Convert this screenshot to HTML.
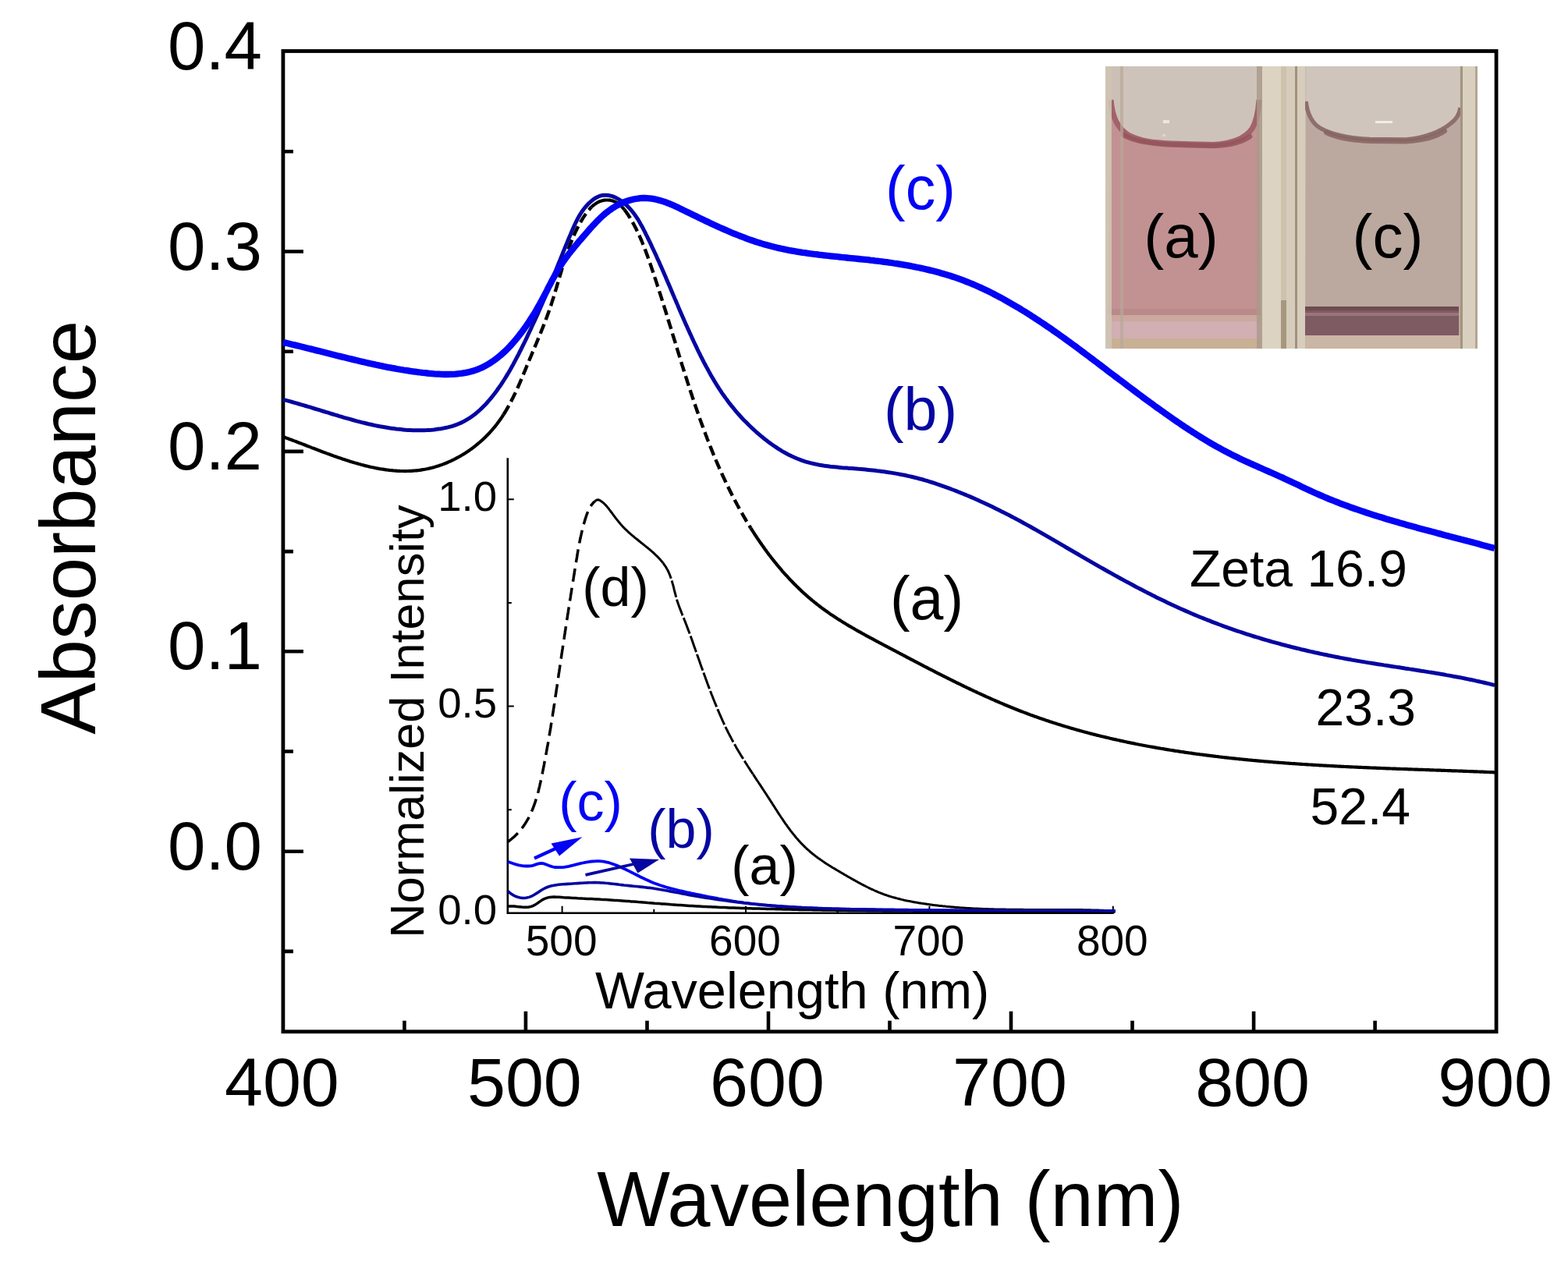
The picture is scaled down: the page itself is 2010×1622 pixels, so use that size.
<!DOCTYPE html>
<html><head><meta charset="utf-8"><title>Absorbance spectra</title>
<style>html,body{margin:0;padding:0;background:#fff;width:2010px;height:1622px;overflow:hidden;} svg{display:block;}</style>
</head><body>
<svg width="2010" height="1622" viewBox="0 0 2010 1622" font-family="'Liberation Sans', Arial, Helvetica, sans-serif">
<rect width="2010" height="1622" fill="#fff"/>

<g id="photo">
 <defs>
  <linearGradient id="topL" x1="0" y1="0" x2="0" y2="1">
   <stop offset="0" stop-color="#cdc3bb"/><stop offset="1" stop-color="#c8b8ae"/>
  </linearGradient>
  <linearGradient id="pinkL" x1="0" y1="0" x2="0" y2="1">
   <stop offset="0" stop-color="#c49494"/><stop offset="1" stop-color="#c39898"/>
  </linearGradient>
 </defs>
 <rect x="1417" y="85" width="477" height="362" fill="#cbbfb6"/>
 <rect x="1439" y="85" width="172" height="100" fill="#cec3bb"/>
 <rect x="1675" y="85" width="196" height="100" fill="#cfc5bd"/>
 <!-- left cuvette liquid -->
 <path d="M1424,128 C1426,150 1432,165 1448,174 C1462,181 1478,183 1500,184 L1556,185.5 C1580,184 1596,178 1605,165 C1611,155 1613,142 1614,128 L1616,396 L1420,396 Z" fill="#c29292"/>
 <path d="M1424,128 C1426,150 1432,165 1448,174 C1462,181 1478,183 1500,184 L1556,185.5 C1580,184 1596,178 1605,165 C1611,155 1613,142 1614,128" fill="none" stroke="#a2636a" stroke-width="7"/>
 <path d="M1440,173 C1452,180 1470,184 1500,185.5 L1556,187 C1578,186 1592,182 1602,175" fill="none" stroke="#94545b" stroke-width="6.5" stroke-linecap="round" opacity="0.85"/>
 <rect x="1420" y="396" width="196" height="8" fill="#b98a89"/>
 <rect x="1420" y="404" width="196" height="8" fill="#cca89f"/>
 <rect x="1420" y="412" width="196" height="22" fill="#d1afb3"/>
 <rect x="1420" y="434" width="196" height="13" fill="#c8b095"/>
 <rect x="1491" y="154" width="8" height="4" fill="#efe6e0"/>
 <rect x="1490" y="172" width="4" height="3" fill="#e8d0d0"/>
 <!-- right cuvette liquid -->
 <path d="M1674,128 C1676,146 1682,158 1692,164 C1706,172 1724,177 1756,178.5 L1802,179 C1830,176 1848,168 1860,158 C1868,152 1871,146 1872,138 L1872,447 L1673,447 Z" fill="#bba99f"/>
 <path d="M1674,130 C1676,146 1682,158 1692,164 C1706,172 1724,177 1756,178.5 L1802,179 C1830,176 1848,168 1860,158 C1868,152 1871,146 1872,138" fill="none" stroke="#8e6f6c" stroke-width="5.5"/>
 <path d="M1700,170 C1712,176 1728,180 1756,181 L1802,181.5 C1826,180 1842,175 1852,168" fill="none" stroke="#866462" stroke-width="6" stroke-linecap="round" opacity="0.85"/>
 <rect x="1763" y="155" width="22" height="3" fill="#f2ece6"/>
 <rect x="1673" y="393" width="197" height="37" fill="#7e5a63"/>
 <rect x="1673" y="393" width="197" height="5" fill="#6e4c50"/>
 <rect x="1673" y="401" width="197" height="4" fill="#9a7478"/>
 <rect x="1673" y="430" width="199" height="17" fill="#c9b6a4"/>
 <!-- glass strips -->
 <rect x="1417" y="85" width="8" height="362" fill="#cfc4b4" opacity="0.9"/>
 <rect x="1436" y="85" width="4" height="362" fill="#b9a89a" opacity="0.7"/>
 <rect x="1611" y="85" width="7" height="362" fill="#a99a8a" opacity="0.8"/>
 <rect x="1618" y="85" width="24" height="362" fill="#dcd3c2"/>
 <rect x="1642" y="85" width="7" height="300" fill="#cdc2ae"/>
 <rect x="1642" y="385" width="7" height="62" fill="#a8977f"/>
 <rect x="1649" y="85" width="11" height="362" fill="#d6ccbb"/>
 <rect x="1660" y="85" width="3" height="362" fill="#a2917e"/>
 <rect x="1663" y="85" width="10" height="362" fill="#d7cdbd"/>
 <rect x="1872" y="85" width="3" height="362" fill="#a39480"/>
 <rect x="1875" y="85" width="16" height="362" fill="#d8cfbe"/>
 <rect x="1891" y="85" width="3" height="362" fill="#b3a792"/>
 <text x="1514" y="330" font-size="78" text-anchor="middle" fill="#000" font-family="'Liberation Sans', Arial, Helvetica, sans-serif">(a)</text>
 <text x="1779" y="330" font-size="78" text-anchor="middle" fill="#000" font-family="'Liberation Sans', Arial, Helvetica, sans-serif">(c)</text>
</g>
<rect x="362.9" y="65.5" width="1555.1999999999998" height="1257.3" fill="none" stroke="#000" stroke-width="4.8"/>
<path d="M518.4,1322.8 V1308.8 M673.9,1322.8 V1296.8 M829.5,1322.8 V1308.8 M985.0,1322.8 V1296.8 M1140.5,1322.8 V1308.8 M1296.0,1322.8 V1296.8 M1451.5,1322.8 V1308.8 M1607.1,1322.8 V1296.8 M1762.6,1322.8 V1308.8 M362.9,1219.9 H375.9 M362.9,1091.7 H388.9 M362.9,963.5 H375.9 M362.9,835.3 H388.9 M362.9,707.1 H375.9 M362.9,578.9 H388.9 M362.9,450.7 H375.9 M362.9,322.5 H388.9 M362.9,194.3 H375.9" stroke="#000" stroke-width="4.6" fill="none"/>
<text x="336" y="89.1" font-size="87" text-anchor="end" font-family="'Liberation Sans', Arial, Helvetica, sans-serif">0.4</text>
<text x="336" y="345.5" font-size="87" text-anchor="end" font-family="'Liberation Sans', Arial, Helvetica, sans-serif">0.3</text>
<text x="336" y="601.9" font-size="87" text-anchor="end" font-family="'Liberation Sans', Arial, Helvetica, sans-serif">0.2</text>
<text x="336" y="858.3" font-size="87" text-anchor="end" font-family="'Liberation Sans', Arial, Helvetica, sans-serif">0.1</text>
<text x="336" y="1114.7" font-size="87" text-anchor="end" font-family="'Liberation Sans', Arial, Helvetica, sans-serif">0.0</text>
<text x="361.4" y="1418" font-size="88" text-anchor="middle" font-family="'Liberation Sans', Arial, Helvetica, sans-serif">400</text>
<text x="672.4" y="1418" font-size="88" text-anchor="middle" font-family="'Liberation Sans', Arial, Helvetica, sans-serif">500</text>
<text x="983.5" y="1418" font-size="88" text-anchor="middle" font-family="'Liberation Sans', Arial, Helvetica, sans-serif">600</text>
<text x="1294.5" y="1418" font-size="88" text-anchor="middle" font-family="'Liberation Sans', Arial, Helvetica, sans-serif">700</text>
<text x="1605.6" y="1418" font-size="88" text-anchor="middle" font-family="'Liberation Sans', Arial, Helvetica, sans-serif">800</text>
<text x="1916.6" y="1418" font-size="88" text-anchor="middle" font-family="'Liberation Sans', Arial, Helvetica, sans-serif">900</text>
<text x="1141.3" y="1572" font-size="99.3" text-anchor="middle" font-family="'Liberation Sans', Arial, Helvetica, sans-serif">Wavelength (nm)</text>
<text transform="translate(122.2,676.3) rotate(-90)" x="0" y="0" font-size="99.5" text-anchor="middle" font-family="'Liberation Sans', Arial, Helvetica, sans-serif">Absorbance</text>
<path d="M650.8,587.2 V1170.8 H1427.8" stroke="#000" stroke-width="2.6" fill="none"/>
<path d="M720.6,1170.8 V1161.8 M838.3,1170.8 V1165.8 M956.0,1170.8 V1161.8 M1073.7,1170.8 V1165.8 M1191.4,1170.8 V1161.8 M1309.1,1170.8 V1165.8 M1426.8,1170.8 V1161.8 M650.8,1038.2 H655.8 M650.8,905.5 H658.8 M650.8,772.9 H655.8 M650.8,640.3 H658.8" stroke="#000" stroke-width="2" fill="none"/>
<text x="637" y="654.8" font-size="54.5" text-anchor="end" font-family="'Liberation Sans', Arial, Helvetica, sans-serif">1.0</text>
<text x="637" y="920.0" font-size="54.5" text-anchor="end" font-family="'Liberation Sans', Arial, Helvetica, sans-serif">0.5</text>
<text x="637" y="1185.3" font-size="54.5" text-anchor="end" font-family="'Liberation Sans', Arial, Helvetica, sans-serif">0.0</text>
<text x="719.6" y="1224.5" font-size="55" text-anchor="middle" font-family="'Liberation Sans', Arial, Helvetica, sans-serif">500</text>
<text x="955.0" y="1224.5" font-size="55" text-anchor="middle" font-family="'Liberation Sans', Arial, Helvetica, sans-serif">600</text>
<text x="1190.4" y="1224.5" font-size="55" text-anchor="middle" font-family="'Liberation Sans', Arial, Helvetica, sans-serif">700</text>
<text x="1425.8" y="1224.5" font-size="55" text-anchor="middle" font-family="'Liberation Sans', Arial, Helvetica, sans-serif">800</text>
<text x="1015.6" y="1293" font-size="66.7" text-anchor="middle" font-family="'Liberation Sans', Arial, Helvetica, sans-serif">Wavelength (nm)</text>
<text transform="translate(542.5,925) rotate(-90)" x="0" y="0" font-size="61.3" text-anchor="middle" font-family="'Liberation Sans', Arial, Helvetica, sans-serif">Normalized Intensity</text>
<path d="M651.0,1079.3 L652.1,1078.5 L653.1,1077.8 L654.1,1077.0 L655.0,1076.3 L656.0,1075.5 L656.9,1074.7 L657.9,1073.9 L658.8,1073.1 L659.7,1072.3 L660.6,1071.4 L661.4,1070.6 L662.3,1069.8 L663.1,1068.9 L663.9,1068.0 L664.7,1067.2 L665.5,1066.3 L666.3,1065.4 L667.0,1064.5 L667.8,1063.6 L668.5,1062.7 L669.2,1061.8 L669.9,1060.8 L670.6,1059.9 L671.3,1059.0 L671.9,1058.0 L672.6,1057.0 L673.2,1056.1 L673.8,1055.1 L674.4,1054.1 L675.0,1053.2 L675.6,1052.2 L676.2,1051.2 L676.8,1050.2 L677.3,1049.2 L677.9,1048.1 L678.4,1047.1 L678.9,1046.1 L679.4,1045.1 L679.9,1044.0 L680.4,1043.0 L680.9,1041.9 L681.3,1040.9 L681.8,1039.8 L682.2,1038.7 L682.7,1037.7 L683.1,1036.6 L683.5,1035.5 L683.9,1034.4 L684.4,1033.4 L684.7,1032.3 L685.1,1031.2 L685.5,1030.1 L685.9,1029.0 L686.3,1027.9 L686.6,1026.8 L687.0,1025.6 L687.3,1024.5 L687.7,1023.4 L688.0,1022.3 L688.3,1021.2 L688.6,1020.0 L688.9,1018.9 L689.3,1017.8 L689.6,1016.6 L689.9,1015.5 L690.2,1014.3 L690.4,1013.2 L690.7,1012.1 L691.0,1010.9 L691.3,1009.8 L691.6,1008.6 L691.8,1007.5 L692.1,1006.3 L692.3,1005.1 L692.6,1004.0 L692.9,1002.8 L693.1,1001.7 L693.4,1000.5 L693.6,999.4 L693.9,998.2 L694.1,997.0 L694.3,995.9 L694.6,994.7 L694.8,993.6 L695.1,992.4 L695.3,991.2 L695.5,990.1 L695.8,988.9 L696.0,987.8 L696.2,986.6 L696.5,985.5 L696.7,984.3 L696.9,983.1 L697.1,982.0 L697.4,980.8 L697.6,979.7 L697.8,978.5 L698.0,977.3 L698.2,976.2 L698.5,975.0 L698.7,973.9 L698.9,972.7 L699.1,971.6 L699.3,970.4 L699.6,969.2 L699.8,968.1 L700.0,966.9 L700.2,965.8 L700.4,964.6 L700.6,963.5 L700.8,962.3 L701.0,961.1 L701.2,960.0 L701.4,958.8 L701.6,957.7 L701.9,956.5 L702.1,955.4 L702.3,954.2 L702.5,953.0 L702.7,951.9 L702.9,950.7 L703.1,949.6 L703.3,948.4 L703.5,947.3 L703.7,946.1 L703.9,945.0 L704.0,943.8 L704.2,942.6 L704.4,941.5 L704.6,940.3 L704.8,939.2 L705.0,938.0 L705.2,936.9 L705.4,935.7 L705.6,934.5 L705.8,933.4 L706.0,932.2 L706.1,931.1 L706.3,929.9 L706.5,928.8 L706.7,927.6 L706.9,926.5 L707.1,925.3 L707.3,924.1 L707.4,923.0 L707.6,921.8 L707.8,920.7 L708.0,919.5 L708.2,918.4 L708.4,917.2 L708.5,916.0 L708.7,914.9 L708.9,913.7 L709.1,912.6 L709.3,911.4 L709.4,910.3 L709.6,909.1 L709.8,908.0 L710.0,906.8 L710.1,905.6 L710.3,904.5 L710.5,903.3 L710.7,902.2 L710.8,901.0 L711.0,899.9 L711.2,898.7 L711.4,897.5 L711.5,896.4 L711.7,895.2 L711.9,894.1 L712.1,892.9 L712.2,891.8 L712.4,890.6 L712.6,889.4 L712.8,888.3 L712.9,887.1 L713.1,886.0 L713.3,884.8 L713.4,883.7 L713.6,882.5 L713.8,881.3 L714.0,880.2 L714.1,879.0 L714.3,877.9 L714.5,876.7 L714.6,875.6 L714.8,874.4 L715.0,873.2 L715.2,872.1 L715.3,870.9 L715.5,869.8 L715.7,868.6 L715.8,867.4 L716.0,866.3 L716.2,865.1 L716.3,864.0 L716.5,862.8 L716.7,861.7 L716.9,860.5 L717.0,859.3 L717.2,858.2 L717.4,857.0 L717.5,855.9 L717.7,854.7 L717.9,853.5 L718.1,852.4 L718.2,851.2 L718.4,850.1 L718.6,848.9 L718.7,847.7 L718.9,846.6 L719.1,845.4 L719.3,844.3 L719.4,843.1 L719.6,841.9 L719.8,840.8 L719.9,839.6 L720.1,838.4 L720.3,837.3 L720.5,836.1 L720.6,835.0 L720.8,833.8 L721.0,832.6 L721.2,831.5 L721.3,830.3 L721.5,829.1 L721.7,828.0 L721.9,826.8 L722.0,825.7 L722.2,824.5 L722.4,823.3 L722.6,822.2 L722.7,821.0 L722.9,819.8 L723.1,818.7 L723.3,817.5 L723.4,816.4 L723.6,815.2 L723.8,814.0 L724.0,812.9 L724.2,811.7 L724.3,810.5 L724.5,809.4 L724.7,808.2 L724.9,807.1 L725.0,805.9 L725.2,804.7 L725.4,803.6 L725.6,802.4 L725.8,801.2 L725.9,800.1 L726.1,798.9 L726.3,797.7 L726.5,796.6 L726.6,795.4 L726.8,794.3 L727.0,793.1 L727.2,791.9 L727.4,790.8 L727.5,789.6 L727.7,788.4 L727.9,787.3 L728.1,786.1 L728.3,785.0 L728.4,783.8 L728.6,782.6 L728.8,781.5 L729.0,780.3 L729.2,779.1 L729.4,778.0 L729.5,776.8 L729.7,775.7 L729.9,774.5 L730.1,773.3 L730.3,772.2 L730.4,771.0 L730.6,769.9 L730.8,768.7 L731.0,767.5 L731.2,766.4 L731.4,765.2 L731.5,764.1 L731.7,762.9 L731.9,761.7 L732.1,760.6 L732.3,759.4 L732.5,758.3 L732.6,757.1 L732.8,755.9 L733.0,754.8 L733.2,753.6 L733.4,752.5 L733.6,751.3 L733.8,750.1 L733.9,749.0 L734.1,747.8 L734.3,746.7 L734.5,745.5 L734.7,744.3 L734.9,743.2 L735.1,742.0 L735.2,740.9 L735.4,739.7 L735.6,738.6 L735.8,737.4 L736.0,736.3 L736.2,735.1 L736.4,733.9 L736.5,732.8 L736.7,731.6 L736.9,730.5 L737.1,729.3 L737.3,728.2 L737.5,727.0 L737.7,725.9 L737.9,724.7 L738.0,723.6 L738.2,722.4 L738.4,721.2 L738.6,720.1 L738.8,718.9 L739.0,717.8 L739.2,716.6 L739.4,715.5 L739.6,714.3 L739.8,713.2 L739.9,712.0 L740.1,710.9 L740.3,709.7 L740.5,708.6 L740.7,707.4 L740.9,706.3 L741.1,705.1 L741.3,704.0 L741.5,702.8 L741.7,701.7 L742.0,700.5 L742.2,699.4 L742.4,698.2 L742.6,697.1 L742.8,695.9 L743.0,694.8 L743.3,693.7 L743.5,692.5 L743.7,691.4 L744.0,690.2 L744.2,689.1 L744.5,687.9 L744.7,686.8 L745.0,685.6 L745.2,684.5 L745.5,683.3 L745.8,682.2 L746.0,681.1 L746.3,679.9 L746.6,678.8 L746.9,677.6 L747.2,676.5 L747.5,675.3 L747.8,674.2 L748.1,673.0 L748.4,671.9 L748.7,670.8 L749.1,669.6 L749.4,668.5 L749.7,667.3 L750.1,666.2 L750.4,665.0 L750.8,663.9 L751.2,662.8 L751.5,661.6 L751.9,660.5 L752.3,659.4 L752.7,658.2 L753.2,657.1 L753.6,656.0 L754.1,654.9 L754.6,653.8 L755.1,652.8 L755.6,651.8 L756.2,650.7 L756.8,649.7 L757.4,648.8 L758.0,647.8 L758.7,646.9 L759.4,646.0 L760.2,645.1 L760.9,644.3 L761.8,643.5 L762.6,642.7" stroke="#000" stroke-width="3.5" fill="none" stroke-dasharray="17,8"/>
<path d="M762.6,642.7 L763.5,642.0 L764.5,641.4 L765.5,640.9 L766.5,640.8 L767.5,641.0 L768.6,641.4 L769.7,642.0 L770.7,642.7 L771.7,643.4 L772.6,644.2 L773.5,644.9 L774.4,645.7 L775.3,646.5 L776.1,647.4 L776.9,648.2 L777.6,649.1 L778.4,650.0 L779.1,650.9 L779.9,651.8 L780.6,652.7 L781.3,653.7 L782.0,654.6 L782.7,655.5 L783.4,656.5 L784.2,657.4 L784.9,658.4 L785.6,659.4 L786.3,660.3 L787.0,661.3 L787.7,662.2 L788.4,663.2 L789.1,664.1 L789.9,665.1 L790.6,666.0 L791.3,666.9 L792.1,667.9 L792.8,668.8 L793.6,669.7 L794.3,670.6 L795.1,671.5 L795.8,672.4 L796.6,673.3 L797.4,674.2 L798.2,675.0 L799.0,675.9 L799.8,676.7 L800.6,677.5 L801.4,678.3 L802.3,679.1 L803.1,680.0 L803.9,680.7 L804.8,681.5 L805.6,682.3 L806.5,683.1 L807.4,683.9 L808.2,684.6 L809.1,685.4 L810.0,686.1 L810.9,686.9 L811.8,687.6 L812.7,688.4 L813.5,689.1 L814.4,689.8 L815.3,690.6 L816.3,691.3 L817.2,692.0 L818.1,692.8 L819.0,693.5 L819.9,694.2 L820.8,694.9 L821.7,695.7 L822.7,696.4 L823.6,697.1 L824.5,697.9 L825.4,698.6 L826.3,699.4 L827.3,700.1 L828.2,700.8 L829.1,701.6 L830.0,702.3 L831.0,703.1 L831.9,703.9 L832.8,704.6 L833.7,705.4 L834.6,706.2 L835.5,707.0 L836.4,707.8 L837.3,708.5 L838.2,709.3 L839.0,710.1 L839.9,711.0 L840.8,711.8 L841.6,712.6 L842.5,713.4 L843.3,714.3 L844.1,715.1 L844.9,716.0 L845.7,716.8 L846.5,717.7 L847.2,718.6 L848.0,719.5 L848.7,720.4 L849.5,721.3 L850.2,722.2" stroke="#000" stroke-width="3.0" fill="none"/>
<path d="M850.2,722.2 L850.9,723.1 L851.5,724.1 L852.2,725.0 L852.8,726.0 L853.5,726.9 L854.1,727.9 L854.6,728.9 L855.2,729.9 L855.8,730.9 L856.3,732.0 L856.8,733.0 L857.3,734.0 L857.7,735.1 L858.2,736.2 L858.6,737.2 L859.0,738.3 L859.4,739.4 L859.8,740.5 L860.2,741.6 L860.6,742.7 L860.9,743.8 L861.3,745.0 L861.6,746.1 L861.9,747.2 L862.2,748.4 L862.6,749.5 L862.9,750.7 L863.2,751.8 L863.5,753.0 L863.8,754.1 L864.0,755.3 L864.3,756.4 L864.6,757.6 L864.9,758.7 L865.2,759.9 L865.5,761.0 L865.8,762.2 L866.1,763.3 L866.4,764.5 L866.7,765.6 L867.0,766.8 L867.4,767.9 L867.7,769.0 L868.0,770.2 L868.4,771.3 L868.8,772.4 L869.1,773.5 L869.5,774.6 L869.9,775.7 L870.3,776.8 L870.7,777.9 L871.1,779.0 L871.5,780.1 L871.9,781.2 L872.4,782.3 L872.8,783.4 L873.2,784.4 L873.6,785.5 L874.1,786.6 L874.5,787.7 L874.9,788.8 L875.4,789.8 L875.8,790.9 L876.2,792.0 L876.7,793.1 L877.1,794.2 L877.5,795.3 L878.0,796.4 L878.4,797.4 L878.8,798.5 L879.2,799.6 L879.7,800.7 L880.1,801.8 L880.5,802.9 L880.9,804.0 L881.3,805.1 L881.7,806.2 L882.1,807.3 L882.5,808.4 L883.0,809.5 L883.4,810.6 L883.8,811.7 L884.2,812.8 L884.6,813.9 L885.0,815.0 L885.4,816.1 L885.8,817.2 L886.2,818.3 L886.6,819.4 L887.0,820.6 L887.4,821.7 L887.8,822.8 L888.2,823.9 L888.6,825.0 L888.9,826.1 L889.3,827.2 L889.7,828.3 L890.1,829.4 L890.5,830.5 L890.9,831.6 L891.3,832.8 L891.7,833.9 L892.1,835.0 L892.5,836.1 L892.9,837.2 L893.3,838.3 L893.6,839.4 L894.0,840.5 L894.4,841.6 L894.8,842.7 L895.2,843.8 L895.6,845.0 L896.0,846.1 L896.4,847.2 L896.8,848.3 L897.2,849.4 L897.5,850.5 L897.9,851.6 L898.3,852.7 L898.7,853.8 L899.1,854.9 L899.5,856.0 L899.9,857.1 L900.3,858.2 L900.7,859.3 L901.1,860.4 L901.5,861.5 L901.9,862.6 L902.3,863.7 L902.7,864.8 L903.1,865.9 L903.5,867.0 L903.9,868.1 L904.3,869.2 L904.7,870.3 L905.1,871.4 L905.5,872.5 L905.9,873.6 L906.3,874.7 L906.7,875.8 L907.1,876.9 L907.5,878.0 L907.9,879.1 L908.3,880.2 L908.8,881.3 L909.2,882.4 L909.6,883.5 L910.0,884.6 L910.4,885.7 L910.8,886.8 L911.3,887.9 L911.7,889.0 L912.1,890.1 L912.5,891.1 L913.0,892.2 L913.4,893.3 L913.8,894.4 L914.2,895.5 L914.7,896.6 L915.1,897.7 L915.5,898.8 L916.0,899.9 L916.4,901.0 L916.9,902.1 L917.3,903.2 L917.8,904.3 L918.2,905.3 L918.6,906.4 L919.1,907.5 L919.6,908.6 L920.0,909.7 L920.5,910.8 L920.9,911.9 L921.4,912.9 L921.9,914.0 L922.3,915.1 L922.8,916.2 L923.3,917.3 L923.7,918.4 L924.2,919.4 L924.7,920.5 L925.2,921.6 L925.6,922.7 L926.1,923.7 L926.6,924.8 L927.1,925.9 L927.6,926.9 L928.1,928.0 L928.6,929.1 L929.1,930.1 L929.6,931.2 L930.1,932.3 L930.6,933.3 L931.1,934.4 L931.6,935.4 L932.2,936.5 L932.7,937.5 L933.2,938.6 L933.7,939.6 L934.3,940.7 L934.8,941.7 L935.3,942.8 L935.9,943.8 L936.4,944.8 L937.0,945.9 L937.5,946.9 L938.1,947.9 L938.6,949.0 L939.2,950.0 L939.7,951.0 L940.3,952.0 L940.9,953.1 L941.4,954.1 L942.0,955.1 L942.6,956.1 L943.2,957.1 L943.7,958.1 L944.3,959.2 L944.9,960.2 L945.5,961.2 L946.1,962.2 L946.7,963.2 L947.3,964.2 L947.9,965.2 L948.5,966.2 L949.1,967.2 L949.7,968.2 L950.3,969.2 L950.9,970.2 L951.5,971.1 L952.1,972.1 L952.7,973.1 L953.4,974.1 L954.0,975.1 L954.6,976.1 L955.2,977.1 L955.8,978.1 L956.5,979.0 L957.1,980.0 L957.7,981.0 L958.3,982.0 L959.0,983.0 L959.6,984.0 L960.2,984.9 L960.9,985.9 L961.5,986.9 L962.1,987.9 L962.8,988.9 L963.4,989.8 L964.1,990.8 L964.7,991.8 L965.3,992.8" stroke="#000" stroke-width="3.0" fill="none" stroke-dasharray="22,3"/>
<path d="M965.3,992.8 L966.0,993.7 L966.6,994.7 L967.3,995.7 L967.9,996.7 L968.5,997.6 L969.2,998.6 L969.8,999.6 L970.5,1000.6 L971.1,1001.5 L971.8,1002.5 L972.4,1003.5 L973.1,1004.5 L973.7,1005.5 L974.4,1006.4 L975.0,1007.4 L975.7,1008.4 L976.3,1009.4 L977.0,1010.4 L977.6,1011.3 L978.2,1012.3 L978.9,1013.3 L979.5,1014.3 L980.2,1015.3 L980.8,1016.2 L981.5,1017.2 L982.1,1018.2 L982.8,1019.2 L983.4,1020.2 L984.0,1021.2 L984.7,1022.2 L985.3,1023.2 L986.0,1024.2 L986.6,1025.1 L987.2,1026.1 L987.9,1027.1 L988.5,1028.1 L989.2,1029.1 L989.8,1030.1 L990.4,1031.1 L991.1,1032.1 L991.7,1033.1 L992.4,1034.1 L993.0,1035.1 L993.6,1036.1 L994.3,1037.1 L994.9,1038.1 L995.6,1039.1 L996.2,1040.1 L996.8,1041.1 L997.5,1042.1 L998.1,1043.1 L998.8,1044.1 L999.4,1045.0 L1000.1,1046.0 L1000.7,1047.0 L1001.4,1048.0 L1002.1,1049.0 L1002.7,1050.0 L1003.4,1050.9 L1004.0,1051.9 L1004.7,1052.9 L1005.4,1053.9 L1006.0,1054.8 L1006.7,1055.8 L1007.4,1056.8 L1008.1,1057.7 L1008.8,1058.7 L1009.4,1059.6 L1010.1,1060.6 L1010.8,1061.5 L1011.5,1062.5 L1012.2,1063.4 L1012.9,1064.3 L1013.6,1065.3 L1014.3,1066.2 L1015.1,1067.1 L1015.8,1068.1 L1016.5,1069.0 L1017.2,1069.9 L1018.0,1070.8 L1018.7,1071.7 L1019.4,1072.6 L1020.2,1073.5 L1020.9,1074.4 L1021.7,1075.3 L1022.5,1076.1 L1023.2,1077.0 L1024.0,1077.9 L1024.8,1078.7 L1025.6,1079.6 L1026.3,1080.5 L1027.1,1081.3 L1027.9,1082.1 L1028.8,1083.0 L1029.6,1083.8 L1030.4,1084.6 L1031.2,1085.4 L1032.0,1086.2 L1032.9,1087.0 L1033.7,1087.8 L1034.6,1088.6 L1035.4,1089.4 L1036.3,1090.2 L1037.2,1090.9 L1038.1,1091.7 L1038.9,1092.5 L1039.8,1093.2 L1040.7,1093.9 L1041.6,1094.7 L1042.6,1095.4 L1043.5,1096.1 L1044.4,1096.8 L1045.3,1097.6 L1046.2,1098.3 L1047.2,1099.0 L1048.1,1099.7 L1049.1,1100.4 L1050.0,1101.0 L1051.0,1101.7 L1051.9,1102.4 L1052.9,1103.1 L1053.9,1103.7 L1054.8,1104.4 L1055.8,1105.1 L1056.8,1105.7 L1057.8,1106.4 L1058.7,1107.0 L1059.7,1107.7 L1060.7,1108.3 L1061.7,1108.9 L1062.7,1109.6 L1063.7,1110.2 L1064.7,1110.8 L1065.7,1111.4 L1066.7,1112.1 L1067.7,1112.7 L1068.8,1113.3 L1069.8,1113.9 L1070.8,1114.5 L1071.8,1115.1 L1072.8,1115.7 L1073.8,1116.3 L1074.9,1116.9 L1075.9,1117.5 L1076.9,1118.1 L1077.9,1118.7 L1078.9,1119.3 L1080.0,1119.9 L1081.0,1120.5 L1082.0,1121.1 L1083.0,1121.7 L1084.1,1122.3 L1085.1,1122.9 L1086.1,1123.5 L1087.1,1124.1 L1088.2,1124.7 L1089.2,1125.2 L1090.2,1125.8 L1091.2,1126.4 L1092.3,1127.0 L1093.3,1127.6 L1094.3,1128.2 L1095.3,1128.7 L1096.4,1129.3 L1097.4,1129.9 L1098.4,1130.4 L1099.5,1131.0 L1100.5,1131.6 L1101.5,1132.1 L1102.6,1132.7 L1103.6,1133.2 L1104.6,1133.8 L1105.7,1134.3 L1106.7,1134.9 L1107.7,1135.4 L1108.8,1135.9 L1109.8,1136.5 L1110.9,1137.0 L1111.9,1137.5 L1113.0,1138.0 L1114.0,1138.6 L1115.1,1139.1 L1116.1,1139.6 L1117.2,1140.1 L1118.2,1140.5 L1119.3,1141.0 L1120.4,1141.5 L1121.4,1142.0 L1122.5,1142.5 L1123.6,1142.9 L1124.6,1143.4 L1125.7,1143.8 L1126.8,1144.3 L1127.9,1144.7 L1128.9,1145.1 L1130.0,1145.5 L1131.1,1146.0 L1132.2,1146.4 L1133.3,1146.8 L1134.4,1147.2 L1135.5,1147.5 L1136.6,1147.9 L1137.7,1148.3 L1138.8,1148.7 L1139.9,1149.0 L1141.0,1149.4 L1142.2,1149.7 L1143.3,1150.1 L1144.4,1150.4 L1145.5,1150.7 L1146.7,1151.0 L1147.8,1151.3 L1148.9,1151.6 L1150.0,1151.9 L1151.2,1152.2 L1152.3,1152.5 L1153.5,1152.8 L1154.6,1153.1 L1155.7,1153.4 L1156.9,1153.6 L1158.0,1153.9 L1159.2,1154.2 L1160.3,1154.4 L1161.5,1154.7 L1162.6,1154.9 L1163.8,1155.1 L1164.9,1155.4 L1166.1,1155.6 L1167.2,1155.8 L1168.4,1156.1 L1169.6,1156.3 L1170.7,1156.5 L1171.9,1156.7 L1173.0,1156.9 L1174.2,1157.1 L1175.4,1157.3 L1176.5,1157.5 L1177.7,1157.7 L1178.9,1157.9 L1180.0,1158.1 L1181.2,1158.3 L1182.4,1158.4 L1183.5,1158.6 L1184.7,1158.8 L1185.8,1159.0 L1187.0,1159.1 L1188.2,1159.3 L1189.3,1159.5 L1190.5,1159.6 L1191.7,1159.8 L1192.8,1159.9 L1194.0,1160.1 L1195.2,1160.3 L1196.3,1160.4 L1197.5,1160.6 L1198.7,1160.7 L1199.8,1160.8 L1201.0,1161.0 L1202.2,1161.1 L1203.3,1161.3 L1204.5,1161.4 L1205.7,1161.5 L1206.8,1161.6 L1208.0,1161.8 L1209.2,1161.9 L1210.3,1162.0 L1211.5,1162.1 L1212.7,1162.3 L1213.8,1162.4 L1215.0,1162.5 L1216.2,1162.6 L1217.3,1162.7 L1218.5,1162.8 L1219.7,1162.9 L1220.8,1163.0 L1222.0,1163.1 L1223.2,1163.2 L1224.4,1163.3 L1225.5,1163.4 L1226.7,1163.5 L1227.9,1163.6 L1229.0,1163.7 L1230.2,1163.8 L1231.4,1163.9 L1232.5,1163.9 L1233.7,1164.0 L1234.9,1164.1 L1236.0,1164.2 L1237.2,1164.2 L1238.4,1164.3 L1239.6,1164.4 L1240.7,1164.5 L1241.9,1164.5 L1243.1,1164.6 L1244.2,1164.7 L1245.4,1164.7 L1246.6,1164.8 L1247.8,1164.9 L1248.9,1164.9 L1250.1,1165.0 L1251.3,1165.0 L1252.4,1165.1 L1253.6,1165.1 L1254.8,1165.2 L1255.9,1165.2 L1257.1,1165.3 L1258.3,1165.3 L1259.5,1165.4 L1260.6,1165.4 L1261.8,1165.5 L1263.0,1165.5 L1264.2,1165.6 L1265.3,1165.6 L1266.5,1165.6 L1267.7,1165.7 L1268.8,1165.7 L1270.0,1165.7 L1271.2,1165.8 L1272.4,1165.8 L1273.5,1165.8 L1274.7,1165.9 L1275.9,1165.9 L1277.0,1165.9 L1278.2,1165.9 L1279.4,1166.0 L1280.6,1166.0 L1281.7,1166.0 L1282.9,1166.0 L1284.1,1166.1 L1285.3,1166.1 L1286.4,1166.1 L1287.6,1166.1 L1288.8,1166.1 L1289.9,1166.2 L1291.1,1166.2 L1292.3,1166.2 L1293.5,1166.2 L1294.6,1166.2 L1295.8,1166.2 L1297.0,1166.2 L1298.2,1166.3 L1299.3,1166.3 L1300.5,1166.3 L1301.7,1166.3 L1302.9,1166.3 L1304.0,1166.3 L1305.2,1166.3 L1306.4,1166.3 L1307.5,1166.3 L1308.7,1166.3 L1309.9,1166.3 L1311.1,1166.3 L1312.2,1166.4 L1313.4,1166.4 L1314.6,1166.4 L1315.8,1166.4 L1316.9,1166.4 L1318.1,1166.4 L1319.3,1166.4 L1320.5,1166.4 L1321.6,1166.4 L1322.8,1166.4 L1324.0,1166.4 L1325.2,1166.4 L1326.3,1166.4 L1327.5,1166.4 L1328.7,1166.4 L1329.9,1166.4 L1331.0,1166.4 L1332.2,1166.4 L1333.4,1166.4 L1334.5,1166.4 L1335.7,1166.4 L1336.9,1166.4 L1338.1,1166.4 L1339.2,1166.4 L1340.4,1166.4 L1341.6,1166.4 L1342.8,1166.4 L1343.9,1166.4 L1345.1,1166.4 L1346.3,1166.4 L1347.5,1166.4 L1348.6,1166.4 L1349.8,1166.4 L1351.0,1166.4 L1352.2,1166.4 L1353.3,1166.4 L1354.5,1166.4 L1355.7,1166.4 L1356.9,1166.4 L1358.0,1166.4 L1359.2,1166.4 L1360.4,1166.4 L1361.6,1166.4 L1362.7,1166.4 L1363.9,1166.4 L1365.1,1166.4 L1366.3,1166.4 L1367.4,1166.4 L1368.6,1166.4 L1369.8,1166.5 L1370.9,1166.5 L1372.1,1166.5 L1373.3,1166.5 L1374.5,1166.5 L1375.6,1166.5 L1376.8,1166.5 L1378.0,1166.5 L1379.2,1166.5 L1380.3,1166.5 L1381.5,1166.6 L1382.7,1166.6 L1383.9,1166.6 L1385.0,1166.6 L1386.2,1166.6 L1387.4,1166.6 L1388.6,1166.7 L1389.7,1166.7 L1390.9,1166.7 L1392.1,1166.7 L1393.2,1166.7 L1394.4,1166.8 L1395.6,1166.8 L1396.8,1166.8 L1397.9,1166.8 L1399.1,1166.9 L1400.3,1166.9 L1401.5,1166.9 L1402.6,1167.0 L1403.8,1167.0 L1405.0,1167.0 L1406.2,1167.1 L1407.3,1167.1 L1408.5,1167.1 L1409.7,1167.2 L1410.8,1167.2 L1412.0,1167.2 L1413.2,1167.3 L1414.4,1167.3 L1415.5,1167.4 L1416.7,1167.4 L1417.9,1167.5 L1419.1,1167.5 L1420.2,1167.6 L1421.4,1167.6 L1422.6,1167.7 L1423.7,1167.7 L1424.9,1167.8 L1426.1,1167.8 L1427.3,1167.9 L1428.4,1168.0 L1429.6,1168.0" stroke="#000" stroke-width="3.0" fill="none"/>
<path d="M650.8,1104.7 L653.6,1105.8 L656.5,1106.8 L659.3,1107.7 L662.2,1108.6 L665.2,1109.3 L668.1,1109.9 L671.1,1110.3 L674.0,1110.5 L677.0,1110.5 L679.9,1110.3 L682.8,1109.8 L685.7,1108.9 L688.6,1107.9 L691.5,1107.1 L694.3,1106.8 L697.2,1107.4 L700.1,1108.4 L702.9,1109.6 L705.8,1110.7 L708.7,1111.5 L711.6,1112.0 L714.5,1112.2 L717.4,1112.2 L720.3,1112.1 L723.2,1111.8 L726.2,1111.3 L729.1,1110.8 L732.0,1110.1 L735.0,1109.4 L738.0,1108.6 L740.9,1107.9 L743.9,1107.2 L746.9,1106.5 L749.9,1105.8 L752.9,1105.3 L755.9,1104.8 L758.9,1104.5 L761.9,1104.3 L764.9,1104.2 L767.8,1104.2 L770.8,1104.4 L773.7,1104.7 L776.7,1105.3 L779.6,1105.9 L782.4,1106.7 L785.3,1107.7 L788.1,1108.7 L790.9,1109.8 L793.7,1111.0 L796.4,1112.2 L799.1,1113.5 L801.9,1114.7 L804.6,1116.1 L807.2,1117.4 L809.9,1118.8 L812.6,1120.1 L815.3,1121.5 L817.9,1122.8 L820.6,1124.2 L823.3,1125.5 L826.0,1126.8 L828.7,1128.1 L831.4,1129.3 L834.1,1130.5 L836.9,1131.7 L839.7,1132.8 L842.5,1133.8 L845.3,1134.8 L848.2,1135.7 L851.0,1136.6 L853.9,1137.5 L856.8,1138.3 L859.7,1139.1 L862.6,1139.8 L865.5,1140.5 L868.4,1141.3 L871.4,1142.0 L874.3,1142.6 L877.2,1143.3 L880.1,1144.0 L883.1,1144.6 L886.0,1145.3 L888.9,1145.9 L891.8,1146.5 L894.8,1147.1 L897.7,1147.7 L900.6,1148.3 L903.6,1148.9 L906.5,1149.5 L909.4,1150.1 L912.4,1150.6 L915.3,1151.2 L918.3,1151.7 L921.2,1152.3 L924.2,1152.8 L927.1,1153.4 L930.1,1153.9 L933.0,1154.4 L936.0,1154.9 L938.9,1155.4 L941.9,1155.8 L944.8,1156.3 L947.8,1156.7 L950.8,1157.1 L953.7,1157.6 L956.7,1158.0 L959.7,1158.3 L962.6,1158.7 L965.6,1159.1 L968.6,1159.4 L971.5,1159.7 L974.5,1160.1 L977.5,1160.4 L980.5,1160.7 L983.5,1160.9 L986.4,1161.2 L989.4,1161.5 L992.4,1161.7 L995.4,1162.0 L998.4,1162.2 L1001.3,1162.4 L1004.3,1162.6 L1007.3,1162.8 L1010.3,1163.0 L1013.3,1163.2 L1016.3,1163.4 L1019.3,1163.5 L1022.3,1163.7 L1025.3,1163.8 L1028.3,1164.0 L1031.2,1164.1 L1034.2,1164.3 L1037.2,1164.4 L1040.2,1164.5 L1043.2,1164.6 L1046.2,1164.7 L1049.2,1164.8 L1052.2,1164.9 L1055.2,1165.0 L1058.2,1165.1 L1061.2,1165.2 L1064.2,1165.2 L1067.2,1165.3 L1070.2,1165.4 L1073.2,1165.4 L1076.2,1165.5 L1079.2,1165.6 L1082.2,1165.6 L1085.2,1165.7 L1088.2,1165.7 L1091.2,1165.8 L1094.2,1165.8 L1097.2,1165.9 L1100.2,1165.9 L1103.2,1166.0 L1106.2,1166.0 L1109.2,1166.0 L1112.2,1166.1 L1115.2,1166.1 L1118.2,1166.2 L1121.2,1166.2 L1124.2,1166.3 L1127.2,1166.3 L1130.2,1166.3 L1133.1,1166.4 L1136.1,1166.4 L1139.1,1166.5 L1142.1,1166.5 L1145.1,1166.5 L1148.1,1166.6 L1151.1,1166.6 L1154.1,1166.6 L1157.1,1166.7 L1160.1,1166.7 L1163.1,1166.7 L1166.1,1166.8 L1169.1,1166.8 L1172.1,1166.8 L1175.1,1166.9 L1178.1,1166.9 L1181.1,1166.9 L1184.1,1167.0 L1187.0,1167.0 L1190.0,1167.0 L1193.0,1167.1 L1196.0,1167.1 L1199.0,1167.1 L1202.0,1167.1 L1205.0,1167.2 L1208.0,1167.2 L1211.0,1167.2 L1214.0,1167.2 L1217.0,1167.3 L1220.0,1167.3 L1223.0,1167.3 L1226.0,1167.3 L1229.0,1167.4 L1231.9,1167.4 L1234.9,1167.4 L1237.9,1167.4 L1240.9,1167.5 L1243.9,1167.5 L1246.9,1167.5 L1249.9,1167.5 L1252.9,1167.5 L1255.9,1167.6 L1258.9,1167.6 L1261.9,1167.6 L1264.9,1167.6 L1267.9,1167.6 L1270.8,1167.6 L1273.8,1167.7 L1276.8,1167.7 L1279.8,1167.7 L1282.8,1167.7 L1285.8,1167.7 L1288.8,1167.7 L1291.8,1167.7 L1294.8,1167.8 L1297.8,1167.8 L1300.8,1167.8 L1303.8,1167.8 L1306.8,1167.8 L1309.8,1167.8 L1312.8,1167.8 L1315.7,1167.8 L1318.7,1167.9 L1321.7,1167.9 L1324.7,1167.9 L1327.7,1167.9 L1330.7,1167.9 L1333.7,1167.9 L1336.7,1167.9 L1339.7,1167.9 L1342.7,1167.9 L1345.7,1167.9 L1348.7,1167.9 L1351.7,1167.9 L1354.7,1167.9 L1357.7,1168.0 L1360.7,1168.0 L1363.7,1168.0 L1366.6,1168.0 L1369.6,1168.0 L1372.6,1168.0 L1375.6,1168.0 L1378.6,1168.0 L1381.6,1168.0 L1384.6,1168.0 L1387.6,1168.0 L1390.6,1168.0 L1393.6,1168.0 L1396.6,1168.0 L1399.6,1168.0 L1402.6,1168.0 L1405.6,1168.0 L1408.6,1168.0 L1411.6,1168.0 L1414.6,1168.0 L1417.6,1168.0 L1420.6,1168.0 L1423.6,1168.0 L1426.6,1168.0 L1429.6,1168.0" stroke="#0303f5" stroke-width="3.8" fill="none"/>
<path d="M650.8,1162.1 L653.6,1161.9 L656.5,1161.9 L659.5,1162.1 L662.5,1162.4 L665.7,1162.7 L668.8,1163.1 L671.9,1163.2 L674.9,1163.3 L677.9,1163.0 L680.8,1162.4 L683.5,1161.4 L686.1,1160.1 L688.6,1158.4 L691.1,1156.6 L693.6,1154.9 L696.1,1153.3 L698.8,1152.0 L701.5,1151.1 L704.4,1150.5 L707.4,1150.2 L710.4,1150.1 L713.4,1150.2 L716.5,1150.3 L719.5,1150.5 L722.5,1150.8 L725.6,1151.0 L728.6,1151.1 L731.6,1151.3 L734.6,1151.5 L737.6,1151.6 L740.6,1151.8 L743.6,1151.9 L746.6,1152.1 L749.6,1152.2 L752.5,1152.4 L755.5,1152.5 L758.5,1152.6 L761.5,1152.8 L764.5,1152.9 L767.4,1153.1 L770.4,1153.3 L773.4,1153.4 L776.4,1153.6 L779.4,1153.8 L782.4,1154.0 L785.4,1154.2 L788.3,1154.4 L791.3,1154.6 L794.3,1154.8 L797.3,1155.0 L800.3,1155.2 L803.3,1155.4 L806.3,1155.6 L809.2,1155.9 L812.2,1156.1 L815.2,1156.3 L818.2,1156.6 L821.2,1156.8 L824.2,1157.0 L827.2,1157.2 L830.2,1157.5 L833.2,1157.7 L836.2,1157.9 L839.2,1158.2 L842.2,1158.4 L845.1,1158.6 L848.1,1158.9 L851.1,1159.1 L854.1,1159.3 L857.1,1159.5 L860.1,1159.8 L863.1,1160.0 L866.1,1160.2 L869.1,1160.4 L872.1,1160.6 L875.1,1160.8 L878.1,1161.0 L881.1,1161.2 L884.1,1161.4 L887.1,1161.5 L890.1,1161.7 L893.0,1161.9 L896.0,1162.0 L899.0,1162.2 L902.0,1162.4 L905.0,1162.5 L908.0,1162.7 L911.0,1162.8 L914.0,1163.0 L917.0,1163.1 L920.0,1163.2 L923.0,1163.4 L926.0,1163.5 L929.0,1163.6 L932.0,1163.7 L935.0,1163.9 L938.0,1164.0 L941.0,1164.1 L944.0,1164.2 L947.0,1164.3 L949.9,1164.4 L952.9,1164.5 L955.9,1164.6 L958.9,1164.7 L961.9,1164.8 L964.9,1164.9 L967.9,1165.0 L970.9,1165.1 L973.9,1165.1 L976.9,1165.2 L979.9,1165.3 L982.9,1165.4 L985.9,1165.5 L988.9,1165.5 L991.9,1165.6 L994.9,1165.7 L997.9,1165.8 L1000.9,1165.8 L1003.9,1165.9 L1006.9,1166.0 L1009.9,1166.0 L1012.9,1166.1 L1015.9,1166.2 L1018.9,1166.2 L1021.9,1166.3 L1024.9,1166.4 L1027.8,1166.4 L1030.8,1166.5 L1033.8,1166.5 L1036.8,1166.6 L1039.8,1166.6 L1042.8,1166.7 L1045.8,1166.7 L1048.8,1166.8 L1051.8,1166.8 L1054.8,1166.9 L1057.8,1166.9 L1060.8,1167.0 L1063.8,1167.0 L1066.8,1167.1 L1069.8,1167.1 L1072.8,1167.2 L1075.8,1167.2 L1078.8,1167.3 L1081.8,1167.3 L1084.8,1167.3 L1087.8,1167.4 L1090.8,1167.4 L1093.8,1167.5 L1096.8,1167.5 L1099.8,1167.5 L1102.8,1167.6 L1105.8,1167.6 L1108.8,1167.6 L1111.8,1167.7 L1114.8,1167.7 L1117.8,1167.7 L1120.8,1167.7 L1123.8,1167.8 L1126.8,1167.8 L1129.8,1167.8 L1132.8,1167.9 L1135.8,1167.9 L1138.8,1167.9 L1141.8,1167.9 L1144.8,1168.0 L1147.8,1168.0 L1150.8,1168.0 L1153.8,1168.0 L1156.8,1168.1 L1159.8,1168.1 L1162.8,1168.1 L1165.8,1168.1 L1168.8,1168.1 L1171.8,1168.2 L1174.7,1168.2 L1177.7,1168.2 L1180.7,1168.2 L1183.7,1168.2 L1186.7,1168.2 L1189.7,1168.3 L1192.7,1168.3 L1195.7,1168.3 L1198.7,1168.3 L1201.7,1168.3 L1204.7,1168.3 L1207.7,1168.3 L1210.7,1168.3 L1213.7,1168.4 L1216.7,1168.4 L1219.7,1168.4 L1222.7,1168.4 L1225.7,1168.4 L1228.7,1168.4 L1231.7,1168.4 L1234.7,1168.4 L1237.7,1168.4 L1240.7,1168.5 L1243.7,1168.5 L1246.7,1168.5 L1249.7,1168.5 L1252.7,1168.5 L1255.7,1168.5 L1258.7,1168.5 L1261.7,1168.5 L1264.7,1168.5 L1267.7,1168.5 L1270.7,1168.5 L1273.7,1168.5 L1276.7,1168.5 L1279.7,1168.6 L1282.7,1168.6 L1285.7,1168.6 L1288.7,1168.6 L1291.7,1168.6 L1294.7,1168.6 L1297.7,1168.6 L1300.7,1168.6 L1303.7,1168.6 L1306.7,1168.6 L1309.7,1168.6 L1312.7,1168.6 L1315.7,1168.6 L1318.7,1168.6 L1321.7,1168.6 L1324.7,1168.6 L1327.7,1168.7 L1330.7,1168.7 L1333.7,1168.7 L1336.7,1168.7 L1339.7,1168.7 L1342.7,1168.7 L1345.7,1168.7 L1348.7,1168.7 L1351.7,1168.7 L1354.7,1168.7 L1357.7,1168.7 L1360.7,1168.7 L1363.7,1168.7 L1366.7,1168.7 L1369.7,1168.8 L1372.7,1168.8 L1375.6,1168.8 L1378.6,1168.8 L1381.6,1168.8 L1384.6,1168.8 L1387.6,1168.8 L1390.6,1168.8 L1393.6,1168.8 L1396.6,1168.8 L1399.6,1168.9 L1402.6,1168.9 L1405.6,1168.9 L1408.6,1168.9 L1411.6,1168.9 L1414.6,1168.9 L1417.6,1168.9 L1420.6,1169.0 L1423.6,1169.0 L1426.6,1169.0 L1429.6,1169.0" stroke="#000" stroke-width="3.5" fill="none"/>
<path d="M650.8,1142.2 L653.0,1144.4 L655.5,1146.3 L658.1,1147.9 L660.8,1149.3 L663.7,1150.3 L666.6,1151.0 L669.6,1151.4 L672.5,1151.5 L675.4,1151.1 L678.2,1150.4 L680.9,1149.4 L683.6,1148.0 L686.1,1146.5 L688.7,1144.9 L691.2,1143.2 L693.8,1141.5 L696.4,1140.0 L699.0,1138.6 L701.7,1137.5 L704.5,1136.5 L707.4,1135.8 L710.2,1135.2 L713.2,1134.7 L716.1,1134.3 L719.1,1134.0 L722.1,1133.8 L725.1,1133.6 L728.2,1133.4 L731.2,1133.2 L734.2,1133.0 L737.2,1132.8 L740.2,1132.6 L743.2,1132.4 L746.2,1132.2 L749.2,1132.0 L752.2,1131.9 L755.2,1131.7 L758.1,1131.7 L761.1,1131.6 L764.1,1131.6 L767.1,1131.7 L770.1,1131.9 L773.0,1132.0 L776.0,1132.3 L779.0,1132.5 L782.0,1132.9 L784.9,1133.2 L787.9,1133.5 L790.9,1133.9 L793.9,1134.3 L796.9,1134.6 L799.8,1135.0 L802.8,1135.3 L805.8,1135.6 L808.8,1135.9 L811.8,1136.2 L814.8,1136.5 L817.7,1136.8 L820.7,1137.1 L823.7,1137.4 L826.7,1137.7 L829.6,1138.1 L832.6,1138.4 L835.6,1138.8 L838.5,1139.2 L841.5,1139.7 L844.4,1140.2 L847.4,1140.7 L850.3,1141.2 L853.3,1141.7 L856.2,1142.3 L859.1,1142.9 L862.1,1143.4 L865.0,1144.0 L868.0,1144.6 L870.9,1145.1 L873.8,1145.7 L876.8,1146.3 L879.7,1146.8 L882.7,1147.4 L885.6,1147.9 L888.6,1148.4 L891.5,1148.9 L894.5,1149.4 L897.4,1149.9 L900.4,1150.4 L903.3,1150.9 L906.3,1151.4 L909.3,1151.8 L912.2,1152.3 L915.2,1152.7 L918.2,1153.2 L921.1,1153.6 L924.1,1154.0 L927.1,1154.4 L930.0,1154.8 L933.0,1155.2 L936.0,1155.6 L938.9,1156.0 L941.9,1156.4 L944.9,1156.7 L947.9,1157.1 L950.8,1157.4 L953.8,1157.7 L956.8,1158.0 L959.8,1158.4 L962.7,1158.7 L965.7,1159.0 L968.7,1159.3 L971.7,1159.5 L974.7,1159.8 L977.6,1160.1 L980.6,1160.3 L983.6,1160.6 L986.6,1160.8 L989.6,1161.1 L992.6,1161.3 L995.5,1161.5 L998.5,1161.7 L1001.5,1161.9 L1004.5,1162.2 L1007.5,1162.3 L1010.5,1162.5 L1013.5,1162.7 L1016.4,1162.9 L1019.4,1163.1 L1022.4,1163.2 L1025.4,1163.4 L1028.4,1163.6 L1031.4,1163.7 L1034.4,1163.9 L1037.4,1164.0 L1040.4,1164.1 L1043.4,1164.3 L1046.3,1164.4 L1049.3,1164.5 L1052.3,1164.6 L1055.3,1164.8 L1058.3,1164.9 L1061.3,1165.0 L1064.3,1165.1 L1067.3,1165.2 L1070.3,1165.3 L1073.3,1165.4 L1076.3,1165.5 L1079.3,1165.5 L1082.3,1165.6 L1085.3,1165.7 L1088.3,1165.8 L1091.2,1165.9 L1094.2,1165.9 L1097.2,1166.0 L1100.2,1166.1 L1103.2,1166.1 L1106.2,1166.2 L1109.2,1166.3 L1112.2,1166.3 L1115.2,1166.4 L1118.2,1166.4 L1121.2,1166.5 L1124.2,1166.5 L1127.2,1166.6 L1130.2,1166.6 L1133.2,1166.7 L1136.2,1166.7 L1139.2,1166.8 L1142.1,1166.8 L1145.1,1166.9 L1148.1,1166.9 L1151.1,1166.9 L1154.1,1167.0 L1157.1,1167.0 L1160.1,1167.0 L1163.1,1167.1 L1166.1,1167.1 L1169.1,1167.1 L1172.1,1167.2 L1175.1,1167.2 L1178.1,1167.2 L1181.1,1167.2 L1184.1,1167.2 L1187.1,1167.3 L1190.1,1167.3 L1193.1,1167.3 L1196.0,1167.3 L1199.0,1167.3 L1202.0,1167.4 L1205.0,1167.4 L1208.0,1167.4 L1211.0,1167.4 L1214.0,1167.4 L1217.0,1167.4 L1220.0,1167.4 L1223.0,1167.4 L1226.0,1167.4 L1229.0,1167.5 L1232.0,1167.5 L1235.0,1167.5 L1238.0,1167.5 L1241.0,1167.5 L1244.0,1167.5 L1246.9,1167.5 L1249.9,1167.5 L1252.9,1167.5 L1255.9,1167.5 L1258.9,1167.5 L1261.9,1167.5 L1264.9,1167.5 L1267.9,1167.5 L1270.9,1167.5 L1273.9,1167.5 L1276.9,1167.5 L1279.9,1167.5 L1282.9,1167.5 L1285.9,1167.5 L1288.9,1167.5 L1291.9,1167.5 L1294.9,1167.5 L1297.9,1167.5 L1300.8,1167.5 L1303.8,1167.5 L1306.8,1167.5 L1309.8,1167.5 L1312.8,1167.5 L1315.8,1167.5 L1318.8,1167.5 L1321.8,1167.5 L1324.8,1167.5 L1327.8,1167.5 L1330.8,1167.5 L1333.8,1167.5 L1336.8,1167.5 L1339.8,1167.5 L1342.8,1167.5 L1345.8,1167.5 L1348.8,1167.5 L1351.7,1167.5 L1354.7,1167.5 L1357.7,1167.5 L1360.7,1167.6 L1363.7,1167.6 L1366.7,1167.6 L1369.7,1167.6 L1372.7,1167.6 L1375.7,1167.6 L1378.7,1167.6 L1381.7,1167.6 L1384.7,1167.6 L1387.7,1167.7 L1390.7,1167.7 L1393.7,1167.7 L1396.7,1167.7 L1399.7,1167.7 L1402.7,1167.8 L1405.6,1167.8 L1408.6,1167.8 L1411.6,1167.8 L1414.6,1167.9 L1417.6,1167.9 L1420.6,1167.9 L1423.6,1167.9 L1426.6,1168.0 L1429.6,1168.0" stroke="#0606a2" stroke-width="3.6" fill="none"/>
<path d="M685,1100.5 L722,1083.5" stroke="#0303f5" stroke-width="4.2" fill="none"/>
<path d="M746.5,1073.2 L706.5,1081.5 L717,1097.5 Z" fill="#0303f5"/>
<path d="M750.5,1121.8 L812,1108" stroke="#0606a2" stroke-width="3.8" fill="none"/>
<path d="M845,1102 L807,1100.5 L817.5,1119.5 Z" fill="#0606a2"/>
<text x="757" y="1052" font-size="70" text-anchor="middle" fill="#0303f5" font-family="'Liberation Sans', Arial, Helvetica, sans-serif">(c)</text>
<text x="873" y="1087" font-size="70" text-anchor="middle" fill="#0606a2" font-family="'Liberation Sans', Arial, Helvetica, sans-serif">(b)</text>
<text x="980" y="1134" font-size="70" text-anchor="middle" fill="#000" font-family="'Liberation Sans', Arial, Helvetica, sans-serif">(a)</text>
<text x="789" y="777" font-size="70" text-anchor="middle" fill="#000" font-family="'Liberation Sans', Arial, Helvetica, sans-serif">(d)</text>
<path d="M363.2,560.2 L364.4,560.6 L365.5,561.0 L366.7,561.4 L367.8,561.9 L369.0,562.3 L370.2,562.7 L371.4,563.2 L372.5,563.6 L373.7,564.0 L374.9,564.5 L376.1,564.9 L377.3,565.4 L378.5,565.8 L379.7,566.3 L380.9,566.8 L382.1,567.2 L383.3,567.7 L384.5,568.2 L385.8,568.6 L387.0,569.1 L388.2,569.6 L389.4,570.0 L390.7,570.5 L391.9,571.0 L393.1,571.5 L394.4,572.0 L395.6,572.4 L396.8,572.9 L398.1,573.4 L399.3,573.9 L400.6,574.4 L401.8,574.8 L403.1,575.3 L404.3,575.8 L405.6,576.3 L406.9,576.8 L408.1,577.3 L409.4,577.7 L410.7,578.2 L411.9,578.7 L413.2,579.2 L414.5,579.7 L415.8,580.2 L417.0,580.6 L418.3,581.1 L419.6,581.6 L420.9,582.1 L422.2,582.5 L423.5,583.0 L424.8,583.5 L426.1,583.9 L427.3,584.4 L428.6,584.9 L429.9,585.3 L431.2,585.8 L432.5,586.2 L433.8,586.7 L435.1,587.1 L436.4,587.6 L437.8,588.0 L439.1,588.5 L440.4,588.9 L441.7,589.3 L443.0,589.8 L444.3,590.2 L445.6,590.6 L446.9,591.0 L448.3,591.5 L449.6,591.9 L450.9,592.3 L452.2,592.7 L453.5,593.1 L454.9,593.5 L456.2,593.8 L457.5,594.2 L458.8,594.6 L460.1,595.0 L461.5,595.3 L462.8,595.7 L464.1,596.0 L465.5,596.4 L466.8,596.7 L468.1,597.1 L469.4,597.4 L470.8,597.7 L472.1,598.0 L473.4,598.4 L474.8,598.7 L476.1,599.0 L477.4,599.2 L478.7,599.5 L480.1,599.8 L481.4,600.1 L482.7,600.3 L484.1,600.6 L485.4,600.8 L486.7,601.1 L488.1,601.3 L489.4,601.5 L490.7,601.7 L492.1,601.9 L493.4,602.1 L494.7,602.3 L496.1,602.5 L497.4,602.7 L498.7,602.8 L500.0,603.0 L501.4,603.1 L502.7,603.2 L504.0,603.4 L505.3,603.5 L506.7,603.6 L508.0,603.7 L509.3,603.8 L510.6,603.8 L512.0,603.9 L513.3,604.0 L514.6,604.0 L515.9,604.0 L517.3,604.0 L518.6,604.1 L519.9,604.1 L521.2,604.0 L522.5,604.0 L523.8,604.0 L525.1,603.9 L526.5,603.9 L527.8,603.8 L529.1,603.7 L530.4,603.6 L531.7,603.5 L533.0,603.4 L534.3,603.3 L535.6,603.1 L536.9,603.0 L538.2,602.8 L539.5,602.6 L540.8,602.4 L542.1,602.2 L543.4,602.0 L544.7,601.8 L546.0,601.5 L547.3,601.3 L548.5,601.0 L549.8,600.7 L551.1,600.4 L552.4,600.1 L553.7,599.8 L554.9,599.4 L556.2,599.1 L557.5,598.7 L558.7,598.3 L560.0,598.0 L561.2,597.6 L562.5,597.2 L563.7,596.7 L565.0,596.3 L566.2,595.9 L567.5,595.4 L568.7,594.9 L570.0,594.5 L571.2,594.0 L572.4,593.5 L573.6,593.0 L574.9,592.4 L576.1,591.9 L577.3,591.4 L578.5,590.8 L579.7,590.2 L580.9,589.7 L582.1,589.1 L583.3,588.5 L584.4,587.9 L585.6,587.2 L586.8,586.6 L588.0,586.0 L589.1,585.3 L590.3,584.7 L591.4,584.0 L592.6,583.3 L593.7,582.6 L594.9,581.9 L596.0,581.2 L597.1,580.5 L598.2,579.7 L599.4,579.0 L600.5,578.2 L601.6,577.5 L602.7,576.7 L603.7,575.9 L604.8,575.2 L605.9,574.4 L607.0,573.6 L608.0,572.7 L609.1,571.9 L610.1,571.1 L611.2,570.2 L612.2,569.4 L613.2,568.5 L614.3,567.7 L615.3,566.8 L616.3,565.9 L617.3,565.0 L618.3,564.1 L619.3,563.2 L620.2,562.3 L621.2,561.4 L622.2,560.4 L623.1,559.5 L624.1,558.5 L625.0,557.6 L625.9,556.6 L626.9,555.7 L627.8,554.7 L628.7,553.7 L629.6,552.7 L630.5,551.7 L631.3,550.7 L632.2,549.7 L633.1,548.6 L633.9,547.6 L634.8,546.6 L635.6,545.5 L636.4,544.5 L637.2,543.4 L638.0,542.4 L638.8,541.3 L639.6,540.2 L640.4,539.1 L641.2,538.1 L641.9,537.0 L642.7,535.9 L643.4,534.8 L644.1,533.6 L644.9,532.5 L645.6,531.4" stroke="#000" stroke-width="4.2" fill="none"/>
<path d="M645.6,531.4 L646.3,530.3 L647.0,529.1 L647.7,528.0 L648.4,526.9 L649.1,525.7 L649.7,524.6 L650.4,523.4 L651.1,522.2 L651.7,521.1 L652.4,519.9 L653.0,518.7 L653.7,517.6 L654.3,516.4 L654.9,515.2 L655.5,514.0 L656.1,512.8 L656.7,511.6 L657.3,510.4 L657.9,509.2 L658.5,508.0 L659.1,506.8 L659.7,505.6 L660.3,504.4 L660.9,503.1 L661.4,501.9 L662.0,500.7 L662.5,499.5 L663.1,498.3 L663.7,497.0 L664.2,495.8 L664.8,494.6 L665.3,493.3 L665.8,492.1 L666.4,490.8 L666.9,489.6 L667.4,488.4 L668.0,487.1 L668.5,485.9 L669.0,484.6 L669.6,483.4 L670.1,482.1 L670.6,480.9 L671.1,479.7 L671.6,478.4 L672.1,477.2 L672.7,475.9 L673.2,474.7 L673.7,473.4 L674.2,472.2 L674.7,470.9 L675.2,469.7 L675.7,468.4 L676.3,467.2 L676.8,465.9 L677.3,464.7 L677.8,463.5 L678.3,462.2 L678.8,461.0 L679.3,459.7 L679.9,458.5 L680.4,457.3 L680.9,456.0 L681.4,454.8 L681.9,453.6 L682.4,452.3 L682.9,451.1 L683.5,449.9 L684.0,448.6 L684.5,447.4 L685.0,446.2 L685.5,445.0 L686.0,443.7 L686.6,442.5 L687.1,441.3 L687.6,440.0 L688.1,438.8 L688.6,437.6 L689.1,436.4 L689.6,435.1 L690.1,433.9 L690.6,432.7 L691.1,431.4 L691.6,430.2 L692.2,429.0 L692.7,427.8 L693.2,426.5 L693.6,425.3 L694.1,424.1 L694.6,422.8 L695.1,421.6 L695.6,420.4 L696.1,419.1 L696.6,417.9 L697.1,416.7 L697.6,415.4 L698.0,414.2 L698.5,413.0 L699.0,411.7 L699.5,410.5 L699.9,409.3 L700.4,408.0 L700.9,406.8 L701.3,405.5 L701.8,404.3 L702.2,403.0 L702.7,401.8 L703.1,400.5 L703.6,399.3 L704.0,398.0 L704.4,396.8 L704.9,395.5 L705.3,394.3 L705.7,393.0 L706.2,391.7 L706.6,390.5 L707.0,389.2 L707.4,387.9 L707.8,386.7 L708.2,385.4 L708.6,384.1 L709.0,382.8 L709.4,381.6 L709.8,380.3 L710.2,379.0 L710.6,377.7 L711.0,376.5 L711.4,375.2 L711.8,373.9 L712.1,372.6 L712.5,371.3 L712.9,370.1 L713.3,368.8 L713.7,367.5 L714.1,366.2 L714.4,364.9 L714.8,363.6 L715.2,362.4 L715.6,361.1 L716.0,359.8 L716.3,358.5 L716.7,357.2 L717.1,355.9 L717.5,354.6 L717.8,353.4 L718.2,352.1 L718.6,350.8 L719.0,349.5 L719.4,348.2 L719.8,346.9 L720.1,345.7 L720.5,344.4 L720.9,343.1 L721.3,341.8 L721.7,340.5 L722.1,339.3 L722.5,338.0 L722.9,336.7 L723.3,335.4 L723.7,334.2 L724.1,332.9 L724.5,331.6 L724.9,330.4 L725.4,329.1 L725.8,327.8 L726.2,326.6 L726.6,325.3 L727.1,324.1 L727.5,322.8 L727.9,321.5 L728.4,320.3 L728.8,319.0 L729.3,317.8 L729.7,316.5 L730.2,315.3 L730.7,314.1 L731.1,312.8 L731.6,311.6 L732.1,310.4 L732.6,309.1 L733.1,307.9 L733.6,306.7 L734.1,305.4 L734.6,304.2 L735.2,303.0 L735.7,301.8 L736.2,300.6 L736.8,299.3 L737.3,298.1 L737.9,296.9 L738.5,295.7 L739.1,294.5 L739.7,293.3 L740.3,292.1 L740.9,290.9 L741.5,289.7 L742.2,288.5 L742.8,287.3 L743.5,286.1 L744.2,284.9 L744.9,283.7 L745.6,282.5 L746.3,281.3 L747.0,280.1 L747.8,278.9 L748.6,277.7 L749.3,276.6 L750.1,275.4 L751.0,274.2 L751.8,273.1 L752.6,272.0 L753.5,270.8 L754.4,269.7 L755.3,268.7 L756.2,267.6 L757.1,266.6 L758.1,265.7" stroke="#000" stroke-width="4.4" fill="none" stroke-dasharray="13,6"/>
<path d="M758.1,265.7 L759.0,264.7 L760.0,263.8 L761.0,263.0 L762.1,262.1 L763.1,261.4 L764.2,260.7 L765.3,260.0 L766.4,259.4 L767.5,258.8 L768.6,258.3 L769.8,257.9 L771.0,257.5 L772.2,257.2 L773.4,256.9 L774.6,256.7 L775.8,256.6 L777.0,256.5 L778.3,256.5 L779.5,256.5 L780.7,256.6 L781.9,256.7 L783.1,257.0 L784.3,257.2 L785.5,257.6 L786.6,258.0 L787.8,258.4 L788.9,258.9 L790.0,259.5 L791.0,260.1 L792.1,260.8 L793.1,261.6 L794.1,262.4 L795.1,263.2 L796.0,264.1 L797.0,265.0 L797.9,265.9 L798.8,266.9 L799.7,268.0 L800.5,269.0" stroke="#000" stroke-width="4.2" fill="none"/>
<path d="M800.5,269.0 L801.4,270.1 L802.2,271.2 L803.0,272.3 L803.8,273.5 L804.6,274.6 L805.4,275.8 L806.1,277.0 L806.9,278.2 L807.6,279.4 L808.3,280.6 L809.1,281.8 L809.8,283.0 L810.4,284.2 L811.1,285.4 L811.8,286.6 L812.5,287.8 L813.1,289.0 L813.8,290.2 L814.4,291.4 L815.0,292.6 L815.6,293.8 L816.2,295.1 L816.8,296.3 L817.4,297.5 L818.0,298.7 L818.6,299.9 L819.1,301.2 L819.7,302.4 L820.2,303.6 L820.8,304.9 L821.3,306.1 L821.8,307.3 L822.4,308.5 L822.9,309.8 L823.4,311.0 L823.9,312.3 L824.4,313.5 L824.9,314.7 L825.4,316.0 L825.9,317.2 L826.4,318.4 L826.8,319.7 L827.3,320.9 L827.8,322.2 L828.2,323.4 L828.7,324.7 L829.1,325.9 L829.6,327.2 L830.1,328.4 L830.5,329.7 L830.9,330.9 L831.4,332.2 L831.8,333.4 L832.3,334.7 L832.7,335.9 L833.1,337.2 L833.6,338.4 L834.0,339.7 L834.4,340.9 L834.9,342.2 L835.3,343.5 L835.7,344.7 L836.1,346.0 L836.6,347.2 L837.0,348.5 L837.4,349.8 L837.8,351.0 L838.3,352.3 L838.7,353.5 L839.1,354.8 L839.5,356.1 L839.9,357.3 L840.4,358.6 L840.8,359.9 L841.2,361.1 L841.6,362.4 L842.0,363.7 L842.4,364.9 L842.8,366.2 L843.2,367.5 L843.7,368.7 L844.1,370.0 L844.5,371.3 L844.9,372.5 L845.3,373.8 L845.7,375.1 L846.1,376.3 L846.5,377.6 L846.9,378.9 L847.3,380.2 L847.7,381.4 L848.1,382.7 L848.5,384.0 L848.9,385.2 L849.3,386.5 L849.7,387.8 L850.1,389.1 L850.5,390.3 L850.9,391.6 L851.3,392.9 L851.7,394.2 L852.1,395.4 L852.5,396.7 L852.9,398.0 L853.3,399.3 L853.7,400.5 L854.1,401.8 L854.5,403.1 L854.9,404.4 L855.3,405.7 L855.7,406.9 L856.1,408.2 L856.5,409.5 L856.8,410.8 L857.2,412.0 L857.6,413.3 L858.0,414.6 L858.4,415.9 L858.8,417.2 L859.2,418.4 L859.6,419.7 L860.0,421.0 L860.4,422.3 L860.8,423.6 L861.2,424.8 L861.6,426.1 L861.9,427.4 L862.3,428.7 L862.7,430.0 L863.1,431.2 L863.5,432.5 L863.9,433.8 L864.3,435.1 L864.7,436.4 L865.1,437.6 L865.5,438.9 L865.9,440.2 L866.2,441.5 L866.6,442.8 L867.0,444.0 L867.4,445.3 L867.8,446.6 L868.2,447.9 L868.6,449.2 L869.0,450.4 L869.4,451.7 L869.8,453.0 L870.2,454.3 L870.6,455.6 L871.0,456.8 L871.4,458.1 L871.8,459.4 L872.2,460.7 L872.5,462.0 L872.9,463.2 L873.3,464.5 L873.7,465.8 L874.1,467.1 L874.5,468.4 L874.9,469.6 L875.3,470.9 L875.7,472.2 L876.1,473.5 L876.5,474.7 L876.9,476.0 L877.3,477.3 L877.7,478.6 L878.1,479.9 L878.5,481.1 L878.9,482.4 L879.4,483.7 L879.8,485.0 L880.2,486.2 L880.6,487.5 L881.0,488.8 L881.4,490.1 L881.8,491.3 L882.2,492.6 L882.6,493.9 L883.0,495.2 L883.4,496.4 L883.9,497.7 L884.3,499.0 L884.7,500.2 L885.1,501.5 L885.5,502.8 L885.9,504.1 L886.4,505.3 L886.8,506.6 L887.2,507.9 L887.6,509.1 L888.0,510.4 L888.5,511.7 L888.9,513.0 L889.3,514.2 L889.7,515.5 L890.2,516.8 L890.6,518.0 L891.0,519.3 L891.5,520.6 L891.9,521.8 L892.3,523.1 L892.8,524.3 L893.2,525.6 L893.6,526.9 L894.1,528.1 L894.5,529.4 L895.0,530.7 L895.4,531.9 L895.8,533.2 L896.3,534.4 L896.7,535.7 L897.2,537.0 L897.6,538.2 L898.1,539.5 L898.5,540.7 L899.0,542.0 L899.4,543.3 L899.9,544.5 L900.3,545.8 L900.8,547.0 L901.3,548.3 L901.7,549.5 L902.2,550.8 L902.7,552.0 L903.1,553.3 L903.6,554.5 L904.1,555.8 L904.5,557.0 L905.0,558.3 L905.5,559.5 L906.0,560.8 L906.4,562.0 L906.9,563.3 L907.4,564.5 L907.9,565.8 L908.4,567.0 L908.8,568.2 L909.3,569.5 L909.8,570.7 L910.3,572.0 L910.8,573.2 L911.3,574.4 L911.8,575.7 L912.3,576.9 L912.8,578.2 L913.3,579.4 L913.8,580.6 L914.3,581.9 L914.8,583.1 L915.3,584.3 L915.8,585.6 L916.4,586.8 L916.9,588.0 L917.4,589.2 L917.9,590.5 L918.4,591.7 L919.0,592.9 L919.5,594.1 L920.0,595.4 L920.5,596.6 L921.1,597.8 L921.6,599.0 L922.1,600.3 L922.7,601.5 L923.2,602.7 L923.8,603.9 L924.3,605.1 L924.9,606.3 L925.4,607.6 L926.0,608.8 L926.5,610.0 L927.1,611.2 L927.6,612.4 L928.2,613.6 L928.8,614.8 L929.3,616.0 L929.9,617.2 L930.5,618.4 L931.0,619.6 L931.6,620.8 L932.2,622.0 L932.8,623.2 L933.4,624.4 L933.9,625.6 L934.5,626.8 L935.1,628.0 L935.7,629.2 L936.3,630.4 L936.9,631.6 L937.5,632.8 L938.1,634.0 L938.7,635.2 L939.3,636.4 L939.9,637.6 L940.6,638.8 L941.2,639.9 L941.8,641.1 L942.4,642.3 L943.0,643.5 L943.7,644.7 L944.3,645.8 L944.9,647.0 L945.6,648.2 L946.2,649.4 L946.9,650.5 L947.5,651.7 L948.1,652.9 L948.8,654.1 L949.4,655.2 L950.1,656.4 L950.8,657.6 L951.4,658.7 L952.1,659.9 L952.8,661.0 L953.4,662.2 L954.1,663.4 L954.8,664.5 L955.5,665.7 L956.1,666.8 L956.8,668.0 L957.5,669.1 L958.2,670.3 L958.9,671.4 L959.6,672.6 L960.3,673.7 L961.0,674.9 L961.7,676.0 L962.4,677.1" stroke="#000" stroke-width="4.4" fill="none" stroke-dasharray="13,6"/>
<path d="M962.4,677.1 L963.1,678.3 L963.9,679.4 L964.6,680.6 L965.3,681.7 L966.0,682.8 L966.8,683.9 L967.5,685.1 L968.2,686.2 L969.0,687.3 L969.7,688.4 L970.5,689.6 L971.2,690.7 L972.0,691.8 L972.7,692.9 L973.5,694.0 L974.2,695.1 L975.0,696.2 L975.8,697.3 L976.5,698.4 L977.3,699.5 L978.1,700.6 L978.9,701.7 L979.6,702.8 L980.4,703.9 L981.2,705.0 L982.0,706.1 L982.8,707.2 L983.6,708.2 L984.4,709.3 L985.2,710.4 L986.0,711.5 L986.8,712.5 L987.7,713.6 L988.5,714.7 L989.3,715.7 L990.1,716.8 L991.0,717.8 L991.8,718.9 L992.6,719.9 L993.5,721.0 L994.3,722.0 L995.2,723.0 L996.0,724.1 L996.9,725.1 L997.7,726.1 L998.6,727.2 L999.4,728.2 L1000.3,729.2 L1001.2,730.2 L1002.0,731.2 L1002.9,732.3 L1003.8,733.3 L1004.7,734.3 L1005.6,735.3 L1006.5,736.3 L1007.4,737.3 L1008.3,738.2 L1009.2,739.2 L1010.1,740.2 L1011.0,741.2 L1011.9,742.2 L1012.8,743.1 L1013.7,744.1 L1014.6,745.1 L1015.6,746.0 L1016.5,747.0 L1017.4,747.9 L1018.3,748.9 L1019.3,749.8 L1020.2,750.8 L1021.2,751.7 L1022.1,752.6 L1023.1,753.6 L1024.0,754.5 L1025.0,755.4 L1026.0,756.3 L1026.9,757.2 L1027.9,758.2 L1028.9,759.1 L1029.8,760.0 L1030.8,760.9 L1031.8,761.7 L1032.8,762.6 L1033.8,763.5 L1034.8,764.4 L1035.8,765.3 L1036.8,766.1 L1037.8,767.0 L1038.8,767.9 L1039.8,768.7 L1040.8,769.6 L1041.9,770.4 L1042.9,771.2 L1043.9,772.1 L1045.0,772.9 L1046.0,773.7 L1047.0,774.6 L1048.1,775.4 L1049.1,776.2 L1050.2,777.0 L1051.2,777.8 L1052.3,778.6 L1053.3,779.4 L1054.4,780.2 L1055.5,781.0 L1056.6,781.8 L1057.6,782.5 L1058.7,783.3 L1059.8,784.1 L1060.9,784.8 L1062.0,785.6 L1063.1,786.4 L1064.1,787.1 L1065.2,787.9 L1066.3,788.6 L1067.4,789.3 L1068.6,790.1 L1069.7,790.8 L1070.8,791.5 L1071.9,792.3 L1073.0,793.0 L1074.1,793.7 L1075.2,794.4 L1076.4,795.1 L1077.5,795.8 L1078.6,796.5 L1079.8,797.2 L1080.9,797.9 L1082.0,798.6 L1083.2,799.3 L1084.3,800.0 L1085.4,800.7 L1086.6,801.4 L1087.7,802.1 L1088.9,802.8 L1090.0,803.4 L1091.2,804.1 L1092.3,804.8 L1093.5,805.5 L1094.7,806.1 L1095.8,806.8 L1097.0,807.5 L1098.1,808.1 L1099.3,808.8 L1100.5,809.4 L1101.6,810.1 L1102.8,810.7 L1104.0,811.4 L1105.1,812.0 L1106.3,812.7 L1107.5,813.3 L1108.7,814.0 L1109.8,814.6 L1111.0,815.3 L1112.2,815.9 L1113.4,816.6 L1114.6,817.2 L1115.7,817.8 L1116.9,818.5 L1118.1,819.1 L1119.3,819.7 L1120.5,820.4 L1121.7,821.0 L1122.8,821.6 L1124.0,822.3 L1125.2,822.9 L1126.4,823.5 L1127.6,824.2 L1128.8,824.8 L1130.0,825.4 L1131.2,826.0 L1132.3,826.7 L1133.5,827.3 L1134.7,827.9 L1135.9,828.6 L1137.1,829.2 L1138.3,829.8 L1139.5,830.4 L1140.7,831.1 L1141.8,831.7 L1143.0,832.3 L1144.2,832.9 L1145.4,833.6 L1146.6,834.2 L1147.8,834.8 L1149.0,835.5 L1150.2,836.1 L1151.3,836.7 L1152.5,837.3 L1153.7,838.0 L1154.9,838.6 L1156.1,839.2 L1157.3,839.8 L1158.5,840.5 L1159.7,841.1 L1160.9,841.7 L1162.0,842.4 L1163.2,843.0 L1164.4,843.6 L1165.6,844.2 L1166.8,844.9 L1168.0,845.5 L1169.2,846.1 L1170.4,846.7 L1171.6,847.4 L1172.7,848.0 L1173.9,848.6 L1175.1,849.2 L1176.3,849.8 L1177.5,850.5 L1178.7,851.1 L1179.9,851.7 L1181.1,852.3 L1182.3,852.9 L1183.5,853.6 L1184.6,854.2 L1185.8,854.8 L1187.0,855.4 L1188.2,856.0 L1189.4,856.6 L1190.6,857.3 L1191.8,857.9 L1193.0,858.5 L1194.2,859.1 L1195.4,859.7 L1196.6,860.3 L1197.8,860.9 L1198.9,861.6 L1200.1,862.2 L1201.3,862.8 L1202.5,863.4 L1203.7,864.0 L1204.9,864.6 L1206.1,865.2 L1207.3,865.8 L1208.5,866.4 L1209.7,867.0 L1210.9,867.6 L1212.1,868.2 L1213.3,868.8 L1214.5,869.4 L1215.7,870.0 L1216.9,870.6 L1218.1,871.2 L1219.3,871.8 L1220.5,872.4 L1221.7,873.0 L1222.9,873.6 L1224.1,874.2 L1225.3,874.8 L1226.5,875.4 L1227.7,876.0 L1228.9,876.5 L1230.1,877.1 L1231.3,877.7 L1232.5,878.3 L1233.7,878.9 L1234.9,879.5 L1236.1,880.1 L1237.3,880.6 L1238.5,881.2 L1239.7,881.8 L1240.9,882.4 L1242.1,882.9 L1243.3,883.5 L1244.5,884.1 L1245.7,884.7 L1246.9,885.2 L1248.2,885.8 L1249.4,886.4 L1250.6,886.9 L1251.8,887.5 L1253.0,888.1 L1254.2,888.6 L1255.4,889.2 L1256.6,889.7 L1257.8,890.3 L1259.1,890.8 L1260.3,891.4 L1261.5,892.0 L1262.7,892.5 L1263.9,893.1 L1265.1,893.6 L1266.3,894.1 L1267.6,894.7 L1268.8,895.2 L1270.0,895.8 L1271.2,896.3 L1272.4,896.9 L1273.7,897.4 L1274.9,897.9 L1276.1,898.5 L1277.3,899.0 L1278.5,899.5 L1279.8,900.0 L1281.0,900.6 L1282.2,901.1 L1283.4,901.6 L1284.7,902.1 L1285.9,902.7 L1287.1,903.2 L1288.3,903.7 L1289.6,904.2 L1290.8,904.7 L1292.0,905.2 L1293.3,905.7 L1294.5,906.2 L1295.7,906.7 L1297.0,907.2 L1298.2,907.7 L1299.4,908.2 L1300.7,908.7 L1301.9,909.2 L1303.1,909.7 L1304.4,910.2 L1305.6,910.7 L1306.9,911.2 L1308.1,911.7 L1309.3,912.2 L1310.6,912.6 L1311.8,913.1 L1313.1,913.6 L1314.3,914.1 L1315.6,914.5 L1316.8,915.0 L1318.1,915.5 L1319.3,915.9 L1320.5,916.4 L1321.8,916.9 L1323.0,917.3 L1324.3,917.8 L1325.6,918.2 L1326.8,918.7 L1328.1,919.1 L1329.3,919.6 L1330.6,920.0 L1331.8,920.4 L1333.1,920.9 L1334.3,921.3 L1335.6,921.8 L1336.9,922.2 L1338.1,922.6 L1339.4,923.1 L1340.6,923.5 L1341.9,923.9 L1343.2,924.3 L1344.4,924.7 L1345.7,925.2 L1347.0,925.6 L1348.2,926.0 L1349.5,926.4 L1350.8,926.8 L1352.0,927.2 L1353.3,927.6 L1354.6,928.0 L1355.8,928.4 L1357.1,928.8 L1358.4,929.2 L1359.6,929.6 L1360.9,930.0 L1362.2,930.4 L1363.5,930.8 L1364.7,931.2 L1366.0,931.6 L1367.3,932.0 L1368.6,932.3 L1369.9,932.7 L1371.1,933.1 L1372.4,933.5 L1373.7,933.9 L1375.0,934.2 L1376.3,934.6 L1377.5,935.0 L1378.8,935.3 L1380.1,935.7 L1381.4,936.1 L1382.7,936.4 L1384.0,936.8 L1385.2,937.1 L1386.5,937.5 L1387.8,937.8 L1389.1,938.2 L1390.4,938.5 L1391.7,938.9 L1393.0,939.2 L1394.3,939.6 L1395.5,939.9 L1396.8,940.2 L1398.1,940.6 L1399.4,940.9 L1400.7,941.3 L1402.0,941.6 L1403.3,941.9 L1404.6,942.2 L1405.9,942.6 L1407.2,942.9 L1408.5,943.2 L1409.8,943.5 L1411.1,943.9 L1412.4,944.2 L1413.7,944.5 L1415.0,944.8 L1416.3,945.1 L1417.6,945.4 L1418.9,945.7 L1420.2,946.0 L1421.5,946.3 L1422.8,946.7 L1424.1,947.0 L1425.4,947.3 L1426.7,947.6 L1428.0,947.9 L1429.3,948.1 L1430.6,948.4 L1431.9,948.7 L1433.2,949.0 L1434.5,949.3 L1435.8,949.6 L1437.1,949.9 L1438.4,950.2 L1439.7,950.4 L1441.0,950.7 L1442.3,951.0 L1443.6,951.3 L1445.0,951.6 L1446.3,951.8 L1447.6,952.1 L1448.9,952.4 L1450.2,952.6 L1451.5,952.9 L1452.8,953.2 L1454.1,953.4 L1455.4,953.7 L1456.8,954.0 L1458.1,954.2 L1459.4,954.5 L1460.7,954.7 L1462.0,955.0 L1463.3,955.2 L1464.6,955.5 L1465.9,955.7 L1467.3,956.0 L1468.6,956.2 L1469.9,956.5 L1471.2,956.7 L1472.5,957.0 L1473.8,957.2 L1475.2,957.5 L1476.5,957.7 L1477.8,957.9 L1479.1,958.2 L1480.4,958.4 L1481.7,958.6 L1483.1,958.9 L1484.4,959.1 L1485.7,959.3 L1487.0,959.5 L1488.3,959.8 L1489.7,960.0 L1491.0,960.2 L1492.3,960.4 L1493.6,960.7 L1494.9,960.9 L1496.3,961.1 L1497.6,961.3 L1498.9,961.5 L1500.2,961.7 L1501.5,962.0 L1502.9,962.2 L1504.2,962.4 L1505.5,962.6 L1506.8,962.8 L1508.2,963.0 L1509.5,963.2 L1510.8,963.4 L1512.1,963.6 L1513.4,963.8 L1514.8,964.0 L1516.1,964.2 L1517.4,964.4 L1518.7,964.6 L1520.1,964.8 L1521.4,965.0 L1522.7,965.2 L1524.0,965.4 L1525.4,965.5 L1526.7,965.7 L1528.0,965.9 L1529.3,966.1 L1530.7,966.3 L1532.0,966.5 L1533.3,966.7 L1534.6,966.8 L1536.0,967.0 L1537.3,967.2 L1538.6,967.4 L1539.9,967.5 L1541.3,967.7 L1542.6,967.9 L1543.9,968.1 L1545.2,968.2 L1546.6,968.4 L1547.9,968.6 L1549.2,968.7 L1550.6,968.9 L1551.9,969.1 L1553.2,969.2 L1554.5,969.4 L1555.9,969.6 L1557.2,969.7 L1558.5,969.9 L1559.8,970.0 L1561.2,970.2 L1562.5,970.4 L1563.8,970.5 L1565.1,970.7 L1566.5,970.8 L1567.8,971.0 L1569.1,971.1 L1570.5,971.3 L1571.8,971.4 L1573.1,971.6 L1574.4,971.7 L1575.8,971.9 L1577.1,972.0 L1578.4,972.2 L1579.8,972.3 L1581.1,972.4 L1582.4,972.6 L1583.7,972.7 L1585.1,972.9 L1586.4,973.0 L1587.7,973.1 L1589.1,973.3 L1590.4,973.4 L1591.7,973.5 L1593.1,973.7 L1594.4,973.8 L1595.7,973.9 L1597.0,974.1 L1598.4,974.2 L1599.7,974.3 L1601.0,974.5 L1602.4,974.6 L1603.7,974.7 L1605.0,974.8 L1606.4,975.0 L1607.7,975.1 L1609.0,975.2 L1610.3,975.3 L1611.7,975.4 L1613.0,975.6 L1614.3,975.7 L1615.7,975.8 L1617.0,975.9 L1618.3,976.0 L1619.7,976.2 L1621.0,976.3 L1622.3,976.4 L1623.7,976.5 L1625.0,976.6 L1626.3,976.7 L1627.6,976.8 L1629.0,976.9 L1630.3,977.0 L1631.6,977.2 L1633.0,977.3 L1634.3,977.4 L1635.6,977.5 L1637.0,977.6 L1638.3,977.7 L1639.6,977.8 L1641.0,977.9 L1642.3,978.0 L1643.6,978.1 L1645.0,978.2 L1646.3,978.3 L1647.6,978.4 L1649.0,978.5 L1650.3,978.6 L1651.6,978.7 L1653.0,978.8 L1654.3,978.9 L1655.6,979.0 L1657.0,979.1 L1658.3,979.1 L1659.6,979.2 L1661.0,979.3 L1662.3,979.4 L1663.6,979.5 L1665.0,979.6 L1666.3,979.7 L1667.6,979.8 L1669.0,979.9 L1670.3,980.0 L1671.6,980.0 L1673.0,980.1 L1674.3,980.2 L1675.6,980.3 L1677.0,980.4 L1678.3,980.5 L1679.6,980.5 L1681.0,980.6 L1682.3,980.7 L1683.6,980.8 L1685.0,980.9 L1686.3,980.9 L1687.6,981.0 L1689.0,981.1 L1690.3,981.2 L1691.6,981.3 L1693.0,981.3 L1694.3,981.4 L1695.6,981.5 L1697.0,981.6 L1698.3,981.6 L1699.6,981.7 L1701.0,981.8 L1702.3,981.9 L1703.6,981.9 L1705.0,982.0 L1706.3,982.1 L1707.7,982.1 L1709.0,982.2 L1710.3,982.3 L1711.7,982.4 L1713.0,982.4 L1714.3,982.5 L1715.7,982.6 L1717.0,982.6 L1718.3,982.7 L1719.7,982.8 L1721.0,982.8 L1722.3,982.9 L1723.7,983.0 L1725.0,983.0 L1726.3,983.1 L1727.7,983.1 L1729.0,983.2 L1730.3,983.3 L1731.7,983.3 L1733.0,983.4 L1734.4,983.5 L1735.7,983.5 L1737.0,983.6 L1738.4,983.6 L1739.7,983.7 L1741.0,983.8 L1742.4,983.8 L1743.7,983.9 L1745.0,983.9 L1746.4,984.0 L1747.7,984.1 L1749.0,984.1 L1750.4,984.2 L1751.7,984.2 L1753.1,984.3 L1754.4,984.3 L1755.7,984.4 L1757.1,984.5 L1758.4,984.5 L1759.7,984.6 L1761.1,984.6 L1762.4,984.7 L1763.7,984.7 L1765.1,984.8 L1766.4,984.8 L1767.7,984.9 L1769.1,984.9 L1770.4,985.0 L1771.8,985.0 L1773.1,985.1 L1774.4,985.1 L1775.8,985.2 L1777.1,985.3 L1778.4,985.3 L1779.8,985.4 L1781.1,985.4 L1782.4,985.5 L1783.8,985.5 L1785.1,985.6 L1786.4,985.6 L1787.8,985.7 L1789.1,985.7 L1790.5,985.8 L1791.8,985.8 L1793.1,985.9 L1794.5,985.9 L1795.8,986.0 L1797.1,986.0 L1798.5,986.0 L1799.8,986.1 L1801.1,986.1 L1802.5,986.2 L1803.8,986.2 L1805.2,986.3 L1806.5,986.3 L1807.8,986.4 L1809.2,986.4 L1810.5,986.5 L1811.8,986.5 L1813.2,986.6 L1814.5,986.6 L1815.8,986.7 L1817.2,986.7 L1818.5,986.8 L1819.8,986.8 L1821.2,986.9 L1822.5,986.9 L1823.9,986.9 L1825.2,987.0 L1826.5,987.0 L1827.9,987.1 L1829.2,987.1 L1830.5,987.2 L1831.9,987.2 L1833.2,987.3 L1834.5,987.3 L1835.9,987.4 L1837.2,987.4 L1838.5,987.5 L1839.9,987.5 L1841.2,987.6 L1842.6,987.6 L1843.9,987.6 L1845.2,987.7 L1846.6,987.7 L1847.9,987.8 L1849.2,987.8 L1850.6,987.9 L1851.9,987.9 L1853.2,988.0 L1854.6,988.0 L1855.9,988.1 L1857.2,988.1 L1858.6,988.2 L1859.9,988.2 L1861.3,988.3 L1862.6,988.3 L1863.9,988.4 L1865.3,988.4 L1866.6,988.4 L1867.9,988.5 L1869.3,988.5 L1870.6,988.6 L1871.9,988.6 L1873.3,988.7 L1874.6,988.7 L1875.9,988.8 L1877.3,988.8 L1878.6,988.9 L1879.9,988.9 L1881.3,989.0 L1882.6,989.0 L1883.9,989.1 L1885.3,989.1 L1886.6,989.2 L1888.0,989.2 L1889.3,989.3 L1890.6,989.3 L1892.0,989.4 L1893.3,989.4 L1894.6,989.5 L1896.0,989.5 L1897.3,989.6 L1898.6,989.6 L1900.0,989.7 L1901.3,989.7 L1902.6,989.8 L1904.0,989.9 L1905.3,989.9 L1906.6,990.0 L1908.0,990.0 L1909.3,990.1 L1910.6,990.1 L1912.0,990.2 L1913.3,990.2 L1914.6,990.3 L1916.0,990.3" stroke="#000" stroke-width="4.2" fill="none"/>
<path d="M363.0,512.4 L365.9,513.2 L368.8,513.9 L371.7,514.7 L374.6,515.5 L377.5,516.3 L380.4,517.1 L383.3,518.0 L386.2,518.8 L389.0,519.6 L391.9,520.5 L394.8,521.4 L397.7,522.2 L400.6,523.1 L403.4,524.0 L406.3,524.8 L409.2,525.7 L412.1,526.6 L414.9,527.5 L417.8,528.4 L420.7,529.2 L423.5,530.1 L426.4,531.0 L429.3,531.9 L432.2,532.7 L435.0,533.6 L437.9,534.4 L440.8,535.3 L443.7,536.1 L446.6,536.9 L449.4,537.7 L452.3,538.5 L455.2,539.3 L458.1,540.1 L461.0,540.8 L463.9,541.6 L466.8,542.3 L469.7,543.0 L472.6,543.7 L475.5,544.3 L478.4,545.0 L481.3,545.6 L484.3,546.2 L487.2,546.8 L490.1,547.3 L493.1,547.8 L496.0,548.3 L498.9,548.8 L501.9,549.2 L504.9,549.6 L507.8,550.0 L510.8,550.3 L513.8,550.6 L516.8,550.9 L519.8,551.2 L522.8,551.4 L525.8,551.5 L528.8,551.7 L531.8,551.7 L534.8,551.8 L537.9,551.8 L540.9,551.8 L544.0,551.7 L547.0,551.6 L550.1,551.4 L553.1,551.2 L556.2,550.9 L559.2,550.5 L562.3,550.1 L565.3,549.7 L568.3,549.1 L571.2,548.5 L574.2,547.9 L577.1,547.1 L580.0,546.3 L582.8,545.3 L585.6,544.3 L588.3,543.2 L591.0,542.1 L593.7,540.8 L596.3,539.4 L598.8,537.9 L601.3,536.4 L603.8,534.8 L606.2,533.0 L608.6,531.3 L610.9,529.4 L613.1,527.5 L615.3,525.5 L617.5,523.4 L619.6,521.3 L621.7,519.2 L623.8,517.0 L625.8,514.7 L627.8,512.4 L629.7,510.1 L631.6,507.7 L633.5,505.3 L635.3,502.9 L637.1,500.5 L638.8,498.0 L640.6,495.6 L642.3,493.1 L643.9,490.6 L645.6,488.0 L647.2,485.5 L648.8,482.9 L650.3,480.4 L651.9,477.8 L653.4,475.2 L654.9,472.6 L656.3,470.0 L657.8,467.4 L659.2,464.7 L660.6,462.1 L662.0,459.4 L663.4,456.8 L664.8,454.1 L666.1,451.4 L667.5,448.8 L668.8,446.1 L670.1,443.4 L671.5,440.7 L672.8,438.0 L674.1,435.3 L675.4,432.6 L676.6,429.9 L677.9,427.2 L679.2,424.5 L680.5,421.8 L681.7,419.0 L683.0,416.3 L684.2,413.6 L685.5,410.9 L686.7,408.2 L688.0,405.4 L689.2,402.7 L690.4,399.9 L691.6,397.2 L692.8,394.5 L694.0,391.7 L695.2,389.0 L696.4,386.2 L697.6,383.4 L698.7,380.7 L699.9,377.9 L701.0,375.1 L702.2,372.4 L703.3,369.6 L704.4,366.8 L705.6,364.0 L706.7,361.2 L707.8,358.5 L708.9,355.7 L710.1,352.9 L711.2,350.1 L712.3,347.3 L713.4,344.5 L714.5,341.7 L715.6,339.0 L716.7,336.2 L717.9,333.4 L719.0,330.6 L720.1,327.8 L721.2,325.1 L722.3,322.3 L723.5,319.5 L724.6,316.7 L725.7,314.0 L726.9,311.2 L728.0,308.4 L729.1,305.7 L730.3,302.9 L731.5,300.2 L732.6,297.4 L733.8,294.7 L735.0,291.9 L736.2,289.2 L737.5,286.5 L738.8,283.8 L740.1,281.2 L741.6,278.5 L743.1,275.9 L744.7,273.3 L746.4,270.8 L748.2,268.3 L750.1,265.9 L752.2,263.5 L754.4,261.1 L756.7,259.0 L759.1,256.9 L761.5,255.1 L764.1,253.5 L766.7,252.2 L769.3,251.2 L772.0,250.5 L774.7,250.2 L777.5,250.2 L780.2,250.5 L783.0,251.1 L785.7,251.9 L788.4,253.0 L791.0,254.4 L793.7,255.9 L796.2,257.6 L798.7,259.4 L801.1,261.4 L803.5,263.5 L805.7,265.7 L807.8,268.0 L809.9,270.3 L811.8,272.7 L813.6,275.1 L815.3,277.6 L816.9,280.0 L818.5,282.5 L820.0,285.1 L821.4,287.7 L822.9,290.3 L824.3,292.9 L825.6,295.5 L827.0,298.2 L828.3,300.9 L829.7,303.6 L831.0,306.3 L832.3,309.0 L833.6,311.7 L834.9,314.4 L836.1,317.1 L837.4,319.8 L838.7,322.5 L839.9,325.2 L841.2,327.9 L842.4,330.7 L843.6,333.4 L844.9,336.1 L846.1,338.9 L847.3,341.6 L848.5,344.3 L849.7,347.1 L850.9,349.8 L852.1,352.6 L853.3,355.3 L854.4,358.1 L855.6,360.8 L856.8,363.6 L858.0,366.3 L859.2,369.1 L860.3,371.8 L861.5,374.6 L862.7,377.4 L863.9,380.1 L865.0,382.9 L866.2,385.6 L867.4,388.4 L868.6,391.1 L869.7,393.9 L870.9,396.7 L872.1,399.4 L873.3,402.2 L874.5,404.9 L875.7,407.7 L876.9,410.4 L878.1,413.2 L879.3,415.9 L880.5,418.6 L881.7,421.4 L883.0,424.1 L884.2,426.9 L885.5,429.6 L886.7,432.3 L888.0,435.1 L889.2,437.8 L890.5,440.5 L891.8,443.2 L893.1,445.9 L894.4,448.7 L895.7,451.4 L897.1,454.1 L898.4,456.8 L899.8,459.5 L901.1,462.1 L902.5,464.8 L903.9,467.5 L905.3,470.1 L906.8,472.8 L908.2,475.4 L909.7,478.1 L911.1,480.7 L912.6,483.3 L914.2,485.9 L915.7,488.5 L917.2,491.0 L918.8,493.6 L920.4,496.1 L922.0,498.6 L923.7,501.1 L925.3,503.6 L927.0,506.1 L928.8,508.5 L930.5,510.9 L932.3,513.3 L934.0,515.7 L935.9,518.1 L937.7,520.4 L939.6,522.7 L941.5,525.0 L943.4,527.3 L945.3,529.6 L947.3,531.8 L949.3,534.0 L951.3,536.2 L953.4,538.4 L955.5,540.5 L957.6,542.6 L959.7,544.8 L961.8,546.8 L964.0,548.9 L966.2,550.9 L968.5,553.0 L970.7,555.0 L973.0,556.9 L975.3,558.9 L977.6,560.8 L980.0,562.7 L982.4,564.6 L984.8,566.4 L987.2,568.2 L989.7,570.0 L992.2,571.7 L994.7,573.4 L997.2,575.1 L999.8,576.7 L1002.4,578.3 L1005.0,579.8 L1007.6,581.2 L1010.3,582.7 L1012.9,584.0 L1015.6,585.3 L1018.3,586.5 L1021.1,587.7 L1023.8,588.8 L1026.6,589.9 L1029.4,590.9 L1032.3,591.8 L1035.1,592.6 L1038.0,593.4 L1040.9,594.1 L1043.8,594.8 L1046.7,595.4 L1049.6,596.0 L1052.5,596.5 L1055.5,597.0 L1058.5,597.4 L1061.4,597.8 L1064.4,598.2 L1067.4,598.5 L1070.4,598.8 L1073.4,599.1 L1076.4,599.4 L1079.4,599.7 L1082.5,599.9 L1085.5,600.1 L1088.5,600.4 L1091.5,600.6 L1094.5,600.8 L1097.6,601.0 L1100.6,601.3 L1103.6,601.5 L1106.6,601.8 L1109.6,602.1 L1112.6,602.4 L1115.5,602.7 L1118.5,603.0 L1121.5,603.3 L1124.5,603.7 L1127.4,604.0 L1130.4,604.4 L1133.4,604.8 L1136.3,605.2 L1139.3,605.7 L1142.2,606.1 L1145.2,606.6 L1148.1,607.1 L1151.0,607.6 L1153.9,608.2 L1156.9,608.8 L1159.8,609.3 L1162.7,610.0 L1165.6,610.6 L1168.5,611.3 L1171.5,612.0 L1174.4,612.7 L1177.3,613.5 L1180.2,614.2 L1183.1,615.0 L1185.9,615.9 L1188.8,616.7 L1191.7,617.6 L1194.6,618.5 L1197.5,619.4 L1200.3,620.4 L1203.2,621.3 L1206.0,622.3 L1208.9,623.3 L1211.7,624.3 L1214.6,625.4 L1217.4,626.4 L1220.2,627.5 L1223.0,628.5 L1225.8,629.6 L1228.6,630.7 L1231.4,631.9 L1234.2,633.0 L1237.0,634.1 L1239.7,635.3 L1242.5,636.4 L1245.3,637.6 L1248.0,638.8 L1250.7,640.0 L1253.5,641.2 L1256.2,642.5 L1258.9,643.7 L1261.7,645.0 L1264.4,646.2 L1267.1,647.5 L1269.8,648.8 L1272.5,650.1 L1275.2,651.4 L1277.8,652.7 L1280.5,654.0 L1283.2,655.4 L1285.9,656.7 L1288.5,658.1 L1291.2,659.4 L1293.9,660.8 L1296.5,662.2 L1299.2,663.6 L1301.8,665.0 L1304.4,666.4 L1307.1,667.8 L1309.7,669.2 L1312.3,670.7 L1314.9,672.1 L1317.6,673.6 L1320.2,675.0 L1322.8,676.5 L1325.4,678.0 L1328.0,679.4 L1330.6,680.9 L1333.2,682.4 L1335.8,683.9 L1338.4,685.4 L1341.0,686.9 L1343.6,688.4 L1346.2,689.9 L1348.8,691.4 L1351.4,692.9 L1354.0,694.4 L1356.6,695.9 L1359.1,697.4 L1361.7,698.9 L1364.3,700.4 L1366.9,702.0 L1369.5,703.5 L1372.1,705.0 L1374.7,706.5 L1377.3,708.0 L1379.9,709.5 L1382.5,711.0 L1385.1,712.6 L1387.7,714.1 L1390.3,715.6 L1392.9,717.1 L1395.5,718.6 L1398.1,720.1 L1400.7,721.6 L1403.3,723.1 L1405.9,724.6 L1408.5,726.1 L1411.1,727.6 L1413.7,729.0 L1416.3,730.5 L1418.9,732.0 L1421.6,733.5 L1424.2,734.9 L1426.8,736.4 L1429.4,737.9 L1432.1,739.3 L1434.7,740.8 L1437.3,742.2 L1440.0,743.6 L1442.6,745.1 L1445.3,746.5 L1447.9,747.9 L1450.5,749.3 L1453.2,750.8 L1455.8,752.2 L1458.5,753.6 L1461.2,755.0 L1463.8,756.3 L1466.5,757.7 L1469.2,759.1 L1471.8,760.5 L1474.5,761.8 L1477.2,763.2 L1479.9,764.5 L1482.5,765.9 L1485.2,767.2 L1487.9,768.5 L1490.6,769.8 L1493.3,771.1 L1496.0,772.4 L1498.7,773.7 L1501.4,775.0 L1504.2,776.2 L1506.9,777.5 L1509.6,778.7 L1512.3,780.0 L1515.1,781.2 L1517.8,782.4 L1520.5,783.6 L1523.3,784.8 L1526.0,786.0 L1528.8,787.2 L1531.5,788.4 L1534.3,789.5 L1537.1,790.7 L1539.8,791.8 L1542.6,792.9 L1545.4,794.0 L1548.2,795.1 L1551.0,796.2 L1553.8,797.3 L1556.6,798.4 L1559.4,799.4 L1562.2,800.5 L1565.0,801.5 L1567.8,802.6 L1570.6,803.6 L1573.4,804.6 L1576.2,805.6 L1579.1,806.6 L1581.9,807.6 L1584.7,808.6 L1587.6,809.5 L1590.4,810.5 L1593.3,811.4 L1596.1,812.3 L1599.0,813.3 L1601.8,814.2 L1604.7,815.1 L1607.5,816.0 L1610.4,816.9 L1613.3,817.7 L1616.1,818.6 L1619.0,819.5 L1621.9,820.3 L1624.8,821.2 L1627.7,822.0 L1630.5,822.8 L1633.4,823.6 L1636.3,824.4 L1639.2,825.2 L1642.1,826.0 L1645.0,826.8 L1647.9,827.5 L1650.8,828.3 L1653.7,829.0 L1656.6,829.8 L1659.5,830.5 L1662.4,831.2 L1665.4,831.9 L1668.3,832.7 L1671.2,833.3 L1674.1,834.0 L1677.0,834.7 L1680.0,835.4 L1682.9,836.0 L1685.8,836.7 L1688.8,837.3 L1691.7,838.0 L1694.6,838.6 L1697.6,839.2 L1700.5,839.8 L1703.4,840.5 L1706.4,841.0 L1709.3,841.6 L1712.3,842.2 L1715.2,842.8 L1718.2,843.4 L1721.1,843.9 L1724.1,844.5 L1727.0,845.0 L1730.0,845.5 L1732.9,846.1 L1735.9,846.6 L1738.8,847.1 L1741.8,847.6 L1744.7,848.1 L1747.7,848.6 L1750.7,849.1 L1753.6,849.6 L1756.6,850.1 L1759.5,850.5 L1762.5,851.0 L1765.5,851.5 L1768.4,851.9 L1771.4,852.4 L1774.4,852.9 L1777.3,853.3 L1780.3,853.8 L1783.3,854.2 L1786.2,854.7 L1789.2,855.1 L1792.1,855.6 L1795.1,856.0 L1798.1,856.5 L1801.0,857.0 L1804.0,857.4 L1807.0,857.9 L1809.9,858.3 L1812.9,858.8 L1815.9,859.2 L1818.8,859.7 L1821.8,860.2 L1824.8,860.6 L1827.7,861.1 L1830.7,861.6 L1833.6,862.1 L1836.6,862.5 L1839.5,863.0 L1842.5,863.5 L1845.5,864.0 L1848.4,864.5 L1851.4,865.0 L1854.3,865.6 L1857.3,866.1 L1860.2,866.6 L1863.2,867.2 L1866.1,867.7 L1869.1,868.3 L1872.0,868.8 L1875.0,869.4 L1877.9,870.0 L1880.8,870.6 L1883.8,871.2 L1886.7,871.8 L1889.7,872.4 L1892.6,873.1 L1895.5,873.7 L1898.5,874.4 L1901.4,875.0 L1904.3,875.7 L1907.2,876.4 L1910.2,877.1 L1913.1,877.8 L1916.0,878.6" stroke="#0606a2" stroke-width="5" fill="none"/>
<path d="M362.9,439.0 L365.9,439.6 L368.8,440.3 L371.8,441.0 L374.7,441.7 L377.7,442.4 L380.6,443.1 L383.5,443.8 L386.4,444.5 L389.4,445.2 L392.3,446.0 L395.2,446.7 L398.1,447.4 L401.0,448.1 L403.9,448.9 L406.8,449.6 L409.7,450.3 L412.6,451.1 L415.5,451.8 L418.4,452.5 L421.3,453.2 L424.2,454.0 L427.1,454.7 L430.0,455.4 L432.9,456.2 L435.7,456.9 L438.6,457.6 L441.5,458.3 L444.4,459.0 L447.3,459.7 L450.2,460.4 L453.1,461.1 L456.0,461.8 L458.9,462.5 L461.8,463.2 L464.7,463.9 L467.6,464.5 L470.5,465.2 L473.4,465.9 L476.3,466.5 L479.2,467.1 L482.1,467.8 L485.1,468.4 L488.0,469.0 L490.9,469.6 L493.8,470.2 L496.8,470.8 L499.7,471.3 L502.7,471.9 L505.6,472.4 L508.6,473.0 L511.5,473.5 L514.5,474.0 L517.5,474.5 L520.4,474.9 L523.4,475.4 L526.4,475.9 L529.4,476.3 L532.4,476.7 L535.4,477.1 L538.4,477.5 L541.5,477.9 L544.5,478.2 L547.5,478.5 L550.6,478.8 L553.6,479.1 L556.6,479.4 L559.7,479.6 L562.7,479.7 L565.8,479.9 L568.8,480.0 L571.8,480.0 L574.8,480.0 L577.8,479.9 L580.8,479.8 L583.8,479.6 L586.7,479.3 L589.6,479.0 L592.6,478.6 L595.5,478.2 L598.3,477.6 L601.2,477.0 L604.0,476.3 L606.8,475.5 L609.5,474.6 L612.3,473.6 L615.0,472.5 L617.6,471.4 L620.3,470.1 L622.9,468.7 L625.4,467.3 L627.9,465.7 L630.4,464.1 L632.9,462.4 L635.3,460.7 L637.7,458.8 L640.0,456.9 L642.3,455.0 L644.6,452.9 L646.8,450.9 L649.1,448.7 L651.2,446.6 L653.4,444.3 L655.4,442.1 L657.5,439.8 L659.5,437.5 L661.5,435.1 L663.5,432.7 L665.4,430.3 L667.2,427.9 L669.1,425.5 L670.9,423.1 L672.6,420.6 L674.4,418.2 L676.1,415.7 L677.7,413.3 L679.3,410.8 L680.9,408.3 L682.5,405.8 L684.1,403.3 L685.6,400.8 L687.1,398.2 L688.6,395.7 L690.0,393.1 L691.5,390.6 L692.9,388.0 L694.3,385.4 L695.7,382.8 L697.1,380.1 L698.5,377.5 L699.9,374.8 L701.3,372.1 L702.6,369.4 L704.0,366.8 L705.4,364.1 L706.8,361.4 L708.2,358.7 L709.6,356.1 L711.1,353.4 L712.5,350.8 L714.0,348.2 L715.6,345.6 L717.1,343.0 L718.7,340.5 L720.3,338.0 L722.0,335.5 L723.7,333.1 L725.4,330.7 L727.2,328.3 L728.9,325.9 L730.8,323.6 L732.6,321.3 L734.5,319.0 L736.4,316.7 L738.3,314.4 L740.2,312.1 L742.1,309.8 L744.1,307.6 L746.0,305.3 L748.0,303.0 L750.0,300.7 L752.0,298.4 L753.9,296.1 L755.9,293.9 L758.0,291.6 L760.0,289.3 L762.1,287.1 L764.2,284.9 L766.3,282.7 L768.4,280.6 L770.6,278.5 L772.8,276.5 L775.1,274.5 L777.4,272.6 L779.8,270.8 L782.2,269.0 L784.6,267.3 L787.2,265.7 L789.7,264.1 L792.4,262.7 L795.1,261.4 L797.8,260.1 L800.6,259.0 L803.4,258.0 L806.3,257.0 L809.2,256.2 L812.1,255.5 L815.0,255.0 L817.9,254.5 L820.8,254.2 L823.8,254.0 L826.7,254.0 L829.6,254.1 L832.5,254.3 L835.4,254.7 L838.2,255.1 L841.1,255.7 L843.9,256.4 L846.8,257.2 L849.6,258.1 L852.4,259.0 L855.2,260.1 L858.0,261.2 L860.8,262.3 L863.6,263.5 L866.3,264.8 L869.1,266.1 L871.9,267.4 L874.6,268.7 L877.4,270.1 L880.1,271.4 L882.9,272.7 L885.6,274.1 L888.3,275.4 L891.1,276.8 L893.8,278.1 L896.6,279.4 L899.3,280.7 L902.0,282.0 L904.8,283.4 L907.5,284.6 L910.2,285.9 L912.9,287.2 L915.7,288.5 L918.4,289.7 L921.1,291.0 L923.9,292.2 L926.6,293.4 L929.4,294.6 L932.1,295.8 L934.8,297.0 L937.6,298.2 L940.3,299.3 L943.1,300.4 L945.9,301.5 L948.6,302.6 L951.4,303.7 L954.2,304.7 L957.0,305.8 L959.7,306.8 L962.5,307.8 L965.3,308.7 L968.1,309.7 L970.9,310.6 L973.8,311.5 L976.6,312.4 L979.4,313.2 L982.3,314.0 L985.1,314.8 L988.0,315.6 L990.8,316.3 L993.7,317.0 L996.6,317.7 L999.5,318.4 L1002.4,319.0 L1005.3,319.6 L1008.2,320.2 L1011.1,320.8 L1014.0,321.3 L1017.0,321.8 L1019.9,322.4 L1022.9,322.9 L1025.8,323.3 L1028.8,323.8 L1031.7,324.2 L1034.7,324.7 L1037.7,325.1 L1040.6,325.5 L1043.6,325.9 L1046.6,326.2 L1049.6,326.6 L1052.6,327.0 L1055.6,327.3 L1058.6,327.6 L1061.6,328.0 L1064.6,328.3 L1067.6,328.6 L1070.6,328.9 L1073.6,329.2 L1076.6,329.5 L1079.6,329.9 L1082.6,330.2 L1085.6,330.5 L1088.6,330.8 L1091.6,331.1 L1094.6,331.4 L1097.6,331.7 L1100.6,332.0 L1103.7,332.3 L1106.7,332.6 L1109.7,332.9 L1112.7,333.2 L1115.7,333.6 L1118.7,333.9 L1121.7,334.3 L1124.7,334.6 L1127.7,335.0 L1130.7,335.4 L1133.7,335.8 L1136.6,336.2 L1139.6,336.6 L1142.6,337.0 L1145.6,337.5 L1148.6,337.9 L1151.5,338.4 L1154.5,338.9 L1157.4,339.4 L1160.4,339.9 L1163.4,340.4 L1166.3,340.9 L1169.2,341.5 L1172.2,342.1 L1175.1,342.7 L1178.0,343.3 L1181.0,343.9 L1183.9,344.5 L1186.8,345.2 L1189.7,345.9 L1192.6,346.6 L1195.5,347.3 L1198.4,348.0 L1201.3,348.8 L1204.1,349.6 L1207.0,350.4 L1209.9,351.2 L1212.7,352.1 L1215.6,352.9 L1218.4,353.8 L1221.2,354.7 L1224.1,355.7 L1226.9,356.6 L1229.7,357.6 L1232.5,358.7 L1235.3,359.7 L1238.1,360.8 L1240.8,361.9 L1243.6,363.0 L1246.4,364.1 L1249.1,365.3 L1251.9,366.5 L1254.6,367.7 L1257.3,368.9 L1260.1,370.2 L1262.8,371.5 L1265.5,372.8 L1268.2,374.1 L1270.8,375.4 L1273.5,376.8 L1276.2,378.2 L1278.9,379.6 L1281.5,381.0 L1284.2,382.4 L1286.8,383.8 L1289.4,385.3 L1292.0,386.8 L1294.6,388.3 L1297.2,389.8 L1299.8,391.3 L1302.4,392.8 L1305.0,394.3 L1307.6,395.9 L1310.1,397.5 L1312.7,399.0 L1315.2,400.6 L1317.8,402.2 L1320.3,403.8 L1322.8,405.4 L1325.3,407.0 L1327.8,408.7 L1330.3,410.3 L1332.8,412.0 L1335.3,413.6 L1337.8,415.3 L1340.3,417.0 L1342.8,418.7 L1345.2,420.3 L1347.7,422.0 L1350.1,423.8 L1352.6,425.5 L1355.0,427.2 L1357.5,428.9 L1359.9,430.7 L1362.4,432.4 L1364.8,434.1 L1367.2,435.9 L1369.6,437.7 L1372.1,439.4 L1374.5,441.2 L1376.9,443.0 L1379.3,444.7 L1381.7,446.5 L1384.1,448.3 L1386.5,450.1 L1388.9,451.9 L1391.3,453.7 L1393.7,455.5 L1396.1,457.3 L1398.5,459.1 L1400.9,460.9 L1403.3,462.7 L1405.7,464.5 L1408.0,466.3 L1410.4,468.1 L1412.8,469.9 L1415.2,471.7 L1417.6,473.5 L1420.0,475.4 L1422.3,477.2 L1424.7,479.0 L1427.1,480.8 L1429.5,482.6 L1431.9,484.4 L1434.3,486.2 L1436.7,488.0 L1439.1,489.8 L1441.4,491.6 L1443.8,493.4 L1446.2,495.2 L1448.6,497.0 L1451.0,498.8 L1453.4,500.6 L1455.8,502.4 L1458.2,504.2 L1460.6,506.0 L1463.0,507.8 L1465.4,509.6 L1467.8,511.4 L1470.2,513.1 L1472.7,514.9 L1475.1,516.7 L1477.5,518.4 L1479.9,520.2 L1482.3,522.0 L1484.8,523.7 L1487.2,525.5 L1489.6,527.2 L1492.1,528.9 L1494.5,530.7 L1497.0,532.4 L1499.4,534.1 L1501.9,535.8 L1504.3,537.6 L1506.8,539.3 L1509.3,541.0 L1511.8,542.6 L1514.2,544.3 L1516.7,546.0 L1519.2,547.7 L1521.7,549.3 L1524.2,551.0 L1526.7,552.6 L1529.2,554.2 L1531.8,555.8 L1534.3,557.4 L1536.8,559.0 L1539.4,560.6 L1541.9,562.2 L1544.5,563.7 L1547.0,565.3 L1549.6,566.8 L1552.2,568.3 L1554.8,569.8 L1557.4,571.3 L1560.0,572.8 L1562.6,574.2 L1565.2,575.7 L1567.8,577.1 L1570.5,578.5 L1573.1,579.9 L1575.8,581.3 L1578.4,582.6 L1581.1,584.0 L1583.8,585.3 L1586.5,586.6 L1589.2,587.9 L1591.9,589.2 L1594.6,590.4 L1597.3,591.7 L1600.0,592.9 L1602.8,594.2 L1605.5,595.4 L1608.2,596.6 L1611.0,597.8 L1613.7,599.1 L1616.5,600.3 L1619.2,601.5 L1621.9,602.7 L1624.7,603.9 L1627.4,605.1 L1630.2,606.3 L1632.9,607.5 L1635.7,608.8 L1638.4,610.0 L1641.1,611.2 L1643.9,612.4 L1646.6,613.7 L1649.3,614.9 L1652.0,616.2 L1654.7,617.5 L1657.4,618.8 L1660.1,620.0 L1662.9,621.3 L1665.6,622.6 L1668.3,623.9 L1671.0,625.2 L1673.7,626.5 L1676.4,627.7 L1679.1,629.0 L1681.8,630.3 L1684.5,631.5 L1687.3,632.7 L1690.0,633.9 L1692.7,635.1 L1695.5,636.3 L1698.2,637.5 L1701.0,638.6 L1703.7,639.8 L1706.5,640.9 L1709.3,642.0 L1712.1,643.1 L1714.8,644.2 L1717.6,645.3 L1720.4,646.3 L1723.2,647.4 L1726.0,648.4 L1728.8,649.4 L1731.6,650.5 L1734.5,651.5 L1737.3,652.5 L1740.1,653.4 L1742.9,654.4 L1745.8,655.4 L1748.6,656.3 L1751.4,657.3 L1754.3,658.2 L1757.1,659.1 L1760.0,660.1 L1762.8,661.0 L1765.7,661.9 L1768.6,662.8 L1771.4,663.6 L1774.3,664.5 L1777.2,665.4 L1780.0,666.2 L1782.9,667.1 L1785.8,667.9 L1788.6,668.8 L1791.5,669.6 L1794.4,670.5 L1797.3,671.3 L1800.2,672.1 L1803.1,672.9 L1806.0,673.7 L1808.9,674.5 L1811.7,675.3 L1814.6,676.1 L1817.5,676.9 L1820.4,677.7 L1823.3,678.5 L1826.2,679.3 L1829.1,680.0 L1832.0,680.8 L1834.9,681.6 L1837.8,682.3 L1840.7,683.1 L1843.6,683.9 L1846.5,684.6 L1849.4,685.4 L1852.3,686.2 L1855.2,686.9 L1858.1,687.7 L1861.0,688.4 L1863.9,689.2 L1866.8,690.0 L1869.7,690.7 L1872.6,691.5 L1875.5,692.2 L1878.4,693.0 L1881.3,693.8 L1884.2,694.5 L1887.1,695.3 L1890.0,696.1 L1892.9,696.8 L1895.7,697.6 L1898.6,698.4 L1901.5,699.2 L1904.4,699.9 L1907.3,700.7 L1910.1,701.5 L1913.0,702.3 L1915.9,703.1" stroke="#0303f5" stroke-width="8.3" fill="none"/>
<text x="1180" y="268" font-size="77" text-anchor="middle" fill="#0303f5" font-family="'Liberation Sans', Arial, Helvetica, sans-serif">(c)</text>
<text x="1180" y="552" font-size="77" text-anchor="middle" fill="#0606a2" font-family="'Liberation Sans', Arial, Helvetica, sans-serif">(b)</text>
<text x="1188" y="794" font-size="77" text-anchor="middle" fill="#000" font-family="'Liberation Sans', Arial, Helvetica, sans-serif">(a)</text>
<text x="1525" y="751.5" font-size="66" font-family="'Liberation Sans', Arial, Helvetica, sans-serif">Zeta 16.9</text>
<text x="1815" y="930" font-size="66" text-anchor="end" font-family="'Liberation Sans', Arial, Helvetica, sans-serif">23.3</text>
<text x="1808" y="1056.5" font-size="66" text-anchor="end" font-family="'Liberation Sans', Arial, Helvetica, sans-serif">52.4</text>
</svg>
</body></html>
